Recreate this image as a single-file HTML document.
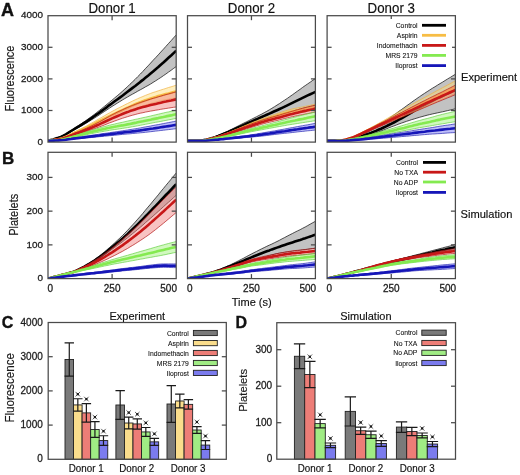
<!DOCTYPE html>
<html><head><meta charset="utf-8"><style>
html,body{margin:0;padding:0;background:#fff;width:520px;height:475px;overflow:hidden;position:relative}
svg{filter:blur(0.3px);}
svg text{font-family:"Liberation Sans", sans-serif}
</style></head><body>
<svg width="520" height="475" viewBox="0 0 520 475" style="position:absolute;left:0;top:0">
<g font-family='"Liberation Sans", sans-serif'>
<text x="1.00" y="15.90" font-size="18" text-anchor="start" font-weight="bold" fill="#111" stroke="#111" stroke-width="0.35" >A</text>
<text x="2.00" y="164.30" font-size="17" text-anchor="start" font-weight="bold" fill="#111" stroke="#111" stroke-width="0.35" >B</text>
<text x="1.80" y="327.50" font-size="16" text-anchor="start" font-weight="bold" fill="#111" stroke="#111" stroke-width="0.35" >C</text>
<text x="235.60" y="328.00" font-size="16" text-anchor="start" font-weight="bold" fill="#111" stroke="#111" stroke-width="0.35" >D</text>
<clipPath id="ca0"><rect x="48.0" y="15.7" width="128.20" height="126.40"/></clipPath>
<g clip-path="url(#ca0)">
<polygon points="48.0,140.8 50.6,140.0 53.1,139.3 55.7,138.5 58.3,137.6 60.8,136.6 63.4,135.4 65.9,133.8 68.5,132.1 71.1,130.4 73.6,128.7 76.2,127.0 78.8,125.3 81.3,123.7 83.9,121.9 86.5,120.1 89.0,118.3 91.6,116.4 94.2,114.5 96.7,112.5 99.3,110.5 101.8,108.5 104.4,106.4 107.0,104.3 109.5,102.2 112.1,100.1 114.7,97.9 117.2,95.8 119.8,93.6 122.4,91.3 124.9,89.0 127.5,86.7 130.0,84.2 132.6,81.8 135.2,79.3 137.7,76.7 140.3,74.1 142.9,71.4 145.4,68.6 148.0,65.9 150.6,63.1 153.1,60.3 155.7,57.6 158.3,54.8 160.8,52.0 163.4,49.2 165.9,46.4 168.5,43.5 171.1,40.7 173.6,37.8 176.2,35.0 176.2,66.6 173.6,68.4 171.1,70.3 168.5,72.1 165.9,74.0 163.4,75.7 160.8,77.5 158.3,79.1 155.7,80.8 153.1,82.4 150.6,84.0 148.0,85.5 145.4,86.9 142.9,88.4 140.3,89.8 137.7,91.2 135.2,92.7 132.6,94.1 130.0,95.5 127.5,97.0 124.9,98.5 122.4,100.0 119.8,101.6 117.2,103.2 114.7,104.8 112.1,106.4 109.5,108.1 107.0,109.8 104.4,111.5 101.8,113.2 99.3,114.9 96.7,116.6 94.2,118.2 91.6,119.8 89.0,121.4 86.5,123.0 83.9,124.5 81.3,126.0 78.8,127.4 76.2,128.8 73.6,130.2 71.1,131.7 68.5,133.2 65.9,134.7 63.4,136.0 60.8,137.1 58.3,138.0 55.7,138.8 53.1,139.5 50.6,140.1 48.0,140.8" fill="#777777" fill-opacity="0.45"/>
<polyline points="48.0,140.8 50.6,140.0 53.1,139.3 55.7,138.5 58.3,137.6 60.8,136.6 63.4,135.4 65.9,133.8 68.5,132.1 71.1,130.4 73.6,128.7 76.2,127.0 78.8,125.3 81.3,123.7 83.9,121.9 86.5,120.1 89.0,118.3 91.6,116.4 94.2,114.5 96.7,112.5 99.3,110.5 101.8,108.5 104.4,106.4 107.0,104.3 109.5,102.2 112.1,100.1 114.7,97.9 117.2,95.8 119.8,93.6 122.4,91.3 124.9,89.0 127.5,86.7 130.0,84.2 132.6,81.8 135.2,79.3 137.7,76.7 140.3,74.1 142.9,71.4 145.4,68.6 148.0,65.9 150.6,63.1 153.1,60.3 155.7,57.6 158.3,54.8 160.8,52.0 163.4,49.2 165.9,46.4 168.5,43.5 171.1,40.7 173.6,37.8 176.2,35.0" fill="none" stroke="#000000" stroke-width="0.75" stroke-opacity="0.9"/>
<polyline points="176.2,66.6 173.6,68.4 171.1,70.3 168.5,72.1 165.9,74.0 163.4,75.7 160.8,77.5 158.3,79.1 155.7,80.8 153.1,82.4 150.6,84.0 148.0,85.5 145.4,86.9 142.9,88.4 140.3,89.8 137.7,91.2 135.2,92.7 132.6,94.1 130.0,95.5 127.5,97.0 124.9,98.5 122.4,100.0 119.8,101.6 117.2,103.2 114.7,104.8 112.1,106.4 109.5,108.1 107.0,109.8 104.4,111.5 101.8,113.2 99.3,114.9 96.7,116.6 94.2,118.2 91.6,119.8 89.0,121.4 86.5,123.0 83.9,124.5 81.3,126.0 78.8,127.4 76.2,128.8 73.6,130.2 71.1,131.7 68.5,133.2 65.9,134.7 63.4,136.0 60.8,137.1 58.3,138.0 55.7,138.8 53.1,139.5 50.6,140.1 48.0,140.8" fill="none" stroke="#000000" stroke-width="0.75" stroke-opacity="0.9"/>
<polyline points="48.0,140.8 50.6,140.1 53.1,139.4 55.7,138.6 58.3,137.8 60.8,136.9 63.4,135.7 65.9,134.3 68.5,132.7 71.1,131.0 73.6,129.5 76.2,127.9 78.8,126.4 81.3,124.8 83.9,123.2 86.5,121.6 89.0,119.9 91.6,118.1 94.2,116.3 96.7,114.5 99.3,112.7 101.8,110.9 104.4,109.0 107.0,107.1 109.5,105.1 112.1,103.2 114.7,101.3 117.2,99.5 119.8,97.6 122.4,95.7 124.9,93.8 127.5,91.8 130.0,89.9 132.6,87.9 135.2,86.0 137.7,84.0 140.3,81.9 142.9,79.9 145.4,77.8 148.0,75.7 150.6,73.5 153.1,71.4 155.7,69.2 158.3,67.0 160.8,64.7 163.4,62.5 165.9,60.2 168.5,57.8 171.1,55.5 173.6,53.1 176.2,50.8" fill="none" stroke="#000000" stroke-width="2.6" stroke-linejoin="round"/>
<polygon points="48.0,140.8 50.6,140.4 53.1,139.9 55.7,139.5 58.3,138.9 60.8,138.3 63.4,137.4 65.9,136.3 68.5,135.0 71.1,133.6 73.6,132.3 76.2,131.1 78.8,129.8 81.3,128.6 83.9,127.3 86.5,126.0 89.0,124.6 91.6,123.1 94.2,121.7 96.7,120.2 99.3,118.7 101.8,117.3 104.4,115.8 107.0,114.3 109.5,112.9 112.1,111.4 114.7,110.1 117.2,108.7 119.8,107.4 122.4,106.1 124.9,104.8 127.5,103.5 130.0,102.3 132.6,101.0 135.2,99.8 137.7,98.7 140.3,97.5 142.9,96.5 145.4,95.4 148.0,94.4 150.6,93.4 153.1,92.5 155.7,91.7 158.3,90.8 160.8,90.0 163.4,89.2 165.9,88.4 168.5,87.5 171.1,86.8 173.6,86.0 176.2,85.2 176.2,97.8 173.6,98.3 171.1,98.7 168.5,99.2 165.9,99.7 163.4,100.2 160.8,100.8 158.3,101.4 155.7,102.1 153.1,102.8 150.6,103.5 148.0,104.3 145.4,105.1 142.9,106.0 140.3,106.9 137.7,107.8 135.2,108.8 132.6,109.8 130.0,110.9 127.5,112.0 124.9,113.0 122.4,114.1 119.8,115.2 117.2,116.2 114.7,117.3 112.1,118.4 109.5,119.5 107.0,120.5 104.4,121.6 101.8,122.7 99.3,123.8 96.7,124.9 94.2,125.9 91.6,127.0 89.0,128.1 86.5,129.1 83.9,130.2 81.3,131.2 78.8,132.2 76.2,133.2 73.6,134.2 71.1,135.2 68.5,136.3 65.9,137.4 63.4,138.3 60.8,138.9 58.3,139.4 55.7,139.8 53.1,140.2 50.6,140.5 48.0,140.8" fill="#ffdc70" fill-opacity="0.45"/>
<polyline points="48.0,140.8 50.6,140.4 53.1,139.9 55.7,139.5 58.3,138.9 60.8,138.3 63.4,137.4 65.9,136.3 68.5,135.0 71.1,133.6 73.6,132.3 76.2,131.1 78.8,129.8 81.3,128.6 83.9,127.3 86.5,126.0 89.0,124.6 91.6,123.1 94.2,121.7 96.7,120.2 99.3,118.7 101.8,117.3 104.4,115.8 107.0,114.3 109.5,112.9 112.1,111.4 114.7,110.1 117.2,108.7 119.8,107.4 122.4,106.1 124.9,104.8 127.5,103.5 130.0,102.3 132.6,101.0 135.2,99.8 137.7,98.7 140.3,97.5 142.9,96.5 145.4,95.4 148.0,94.4 150.6,93.4 153.1,92.5 155.7,91.7 158.3,90.8 160.8,90.0 163.4,89.2 165.9,88.4 168.5,87.5 171.1,86.8 173.6,86.0 176.2,85.2" fill="none" stroke="#f0b040" stroke-width="0.75" stroke-opacity="0.9"/>
<polyline points="176.2,97.8 173.6,98.3 171.1,98.7 168.5,99.2 165.9,99.7 163.4,100.2 160.8,100.8 158.3,101.4 155.7,102.1 153.1,102.8 150.6,103.5 148.0,104.3 145.4,105.1 142.9,106.0 140.3,106.9 137.7,107.8 135.2,108.8 132.6,109.8 130.0,110.9 127.5,112.0 124.9,113.0 122.4,114.1 119.8,115.2 117.2,116.2 114.7,117.3 112.1,118.4 109.5,119.5 107.0,120.5 104.4,121.6 101.8,122.7 99.3,123.8 96.7,124.9 94.2,125.9 91.6,127.0 89.0,128.1 86.5,129.1 83.9,130.2 81.3,131.2 78.8,132.2 76.2,133.2 73.6,134.2 71.1,135.2 68.5,136.3 65.9,137.4 63.4,138.3 60.8,138.9 58.3,139.4 55.7,139.8 53.1,140.2 50.6,140.5 48.0,140.8" fill="none" stroke="#f0b040" stroke-width="0.75" stroke-opacity="0.9"/>
<polyline points="48.0,140.8 50.6,140.4 53.1,140.0 55.7,139.6 58.3,139.2 60.8,138.6 63.4,137.8 65.9,136.8 68.5,135.6 71.1,134.4 73.6,133.3 76.2,132.1 78.8,131.0 81.3,129.9 83.9,128.7 86.5,127.6 89.0,126.3 91.6,125.1 94.2,123.8 96.7,122.5 99.3,121.2 101.8,120.0 104.4,118.7 107.0,117.4 109.5,116.2 112.1,114.9 114.7,113.7 117.2,112.5 119.8,111.3 122.4,110.1 124.9,108.9 127.5,107.7 130.0,106.6 132.6,105.4 135.2,104.3 137.7,103.2 140.3,102.2 142.9,101.2 145.4,100.3 148.0,99.4 150.6,98.5 153.1,97.7 155.7,96.9 158.3,96.1 160.8,95.4 163.4,94.7 165.9,94.0 168.5,93.4 171.1,92.7 173.6,92.1 176.2,91.5" fill="none" stroke="#f7bd45" stroke-width="2.6" stroke-linejoin="round"/>
<polygon points="48.0,140.8 50.6,140.4 53.1,140.0 55.7,139.6 58.3,139.2 60.8,138.6 63.4,137.9 65.9,136.9 68.5,135.8 71.1,134.7 73.6,133.6 76.2,132.5 78.8,131.5 81.3,130.4 83.9,129.3 86.5,128.2 89.0,127.0 91.6,125.8 94.2,124.5 96.7,123.2 99.3,121.9 101.8,120.5 104.4,119.1 107.0,117.6 109.5,116.2 112.1,114.8 114.7,113.5 117.2,112.2 119.8,111.0 122.4,109.8 124.9,108.6 127.5,107.5 130.0,106.4 132.6,105.4 135.2,104.4 137.7,103.4 140.3,102.5 142.9,101.6 145.4,100.8 148.0,99.9 150.6,99.1 153.1,98.3 155.7,97.6 158.3,96.8 160.8,96.1 163.4,95.3 165.9,94.6 168.5,93.9 171.1,93.2 173.6,92.5 176.2,91.8 176.2,107.0 173.6,107.3 171.1,107.7 168.5,108.1 165.9,108.5 163.4,108.9 160.8,109.3 158.3,109.8 155.7,110.2 153.1,110.7 150.6,111.1 148.0,111.6 145.4,112.1 142.9,112.7 140.3,113.2 137.7,113.8 135.2,114.5 132.6,115.2 130.0,115.9 127.5,116.7 124.9,117.5 122.4,118.3 119.8,119.2 117.2,120.1 114.7,121.0 112.1,122.0 109.5,122.9 107.0,123.9 104.4,125.0 101.8,126.0 99.3,126.9 96.7,127.9 94.2,128.8 91.6,129.6 89.0,130.5 86.5,131.4 83.9,132.2 81.3,133.0 78.8,133.9 76.2,134.7 73.6,135.5 71.1,136.3 68.5,137.2 65.9,138.0 63.4,138.7 60.8,139.3 58.3,139.7 55.7,140.0 53.1,140.3 50.6,140.5 48.0,140.8" fill="#f07a78" fill-opacity="0.45"/>
<polyline points="48.0,140.8 50.6,140.4 53.1,140.0 55.7,139.6 58.3,139.2 60.8,138.6 63.4,137.9 65.9,136.9 68.5,135.8 71.1,134.7 73.6,133.6 76.2,132.5 78.8,131.5 81.3,130.4 83.9,129.3 86.5,128.2 89.0,127.0 91.6,125.8 94.2,124.5 96.7,123.2 99.3,121.9 101.8,120.5 104.4,119.1 107.0,117.6 109.5,116.2 112.1,114.8 114.7,113.5 117.2,112.2 119.8,111.0 122.4,109.8 124.9,108.6 127.5,107.5 130.0,106.4 132.6,105.4 135.2,104.4 137.7,103.4 140.3,102.5 142.9,101.6 145.4,100.8 148.0,99.9 150.6,99.1 153.1,98.3 155.7,97.6 158.3,96.8 160.8,96.1 163.4,95.3 165.9,94.6 168.5,93.9 171.1,93.2 173.6,92.5 176.2,91.8" fill="none" stroke="#b01010" stroke-width="0.75" stroke-opacity="0.9"/>
<polyline points="176.2,107.0 173.6,107.3 171.1,107.7 168.5,108.1 165.9,108.5 163.4,108.9 160.8,109.3 158.3,109.8 155.7,110.2 153.1,110.7 150.6,111.1 148.0,111.6 145.4,112.1 142.9,112.7 140.3,113.2 137.7,113.8 135.2,114.5 132.6,115.2 130.0,115.9 127.5,116.7 124.9,117.5 122.4,118.3 119.8,119.2 117.2,120.1 114.7,121.0 112.1,122.0 109.5,122.9 107.0,123.9 104.4,125.0 101.8,126.0 99.3,126.9 96.7,127.9 94.2,128.8 91.6,129.6 89.0,130.5 86.5,131.4 83.9,132.2 81.3,133.0 78.8,133.9 76.2,134.7 73.6,135.5 71.1,136.3 68.5,137.2 65.9,138.0 63.4,138.7 60.8,139.3 58.3,139.7 55.7,140.0 53.1,140.3 50.6,140.5 48.0,140.8" fill="none" stroke="#b01010" stroke-width="0.75" stroke-opacity="0.9"/>
<polyline points="48.0,140.8 50.6,140.5 53.1,140.2 55.7,139.8 58.3,139.4 60.8,138.9 63.4,138.3 65.9,137.4 68.5,136.5 71.1,135.5 73.6,134.5 76.2,133.6 78.8,132.7 81.3,131.7 83.9,130.8 86.5,129.8 89.0,128.8 91.6,127.7 94.2,126.6 96.7,125.5 99.3,124.4 101.8,123.2 104.4,122.0 107.0,120.8 109.5,119.6 112.1,118.4 114.7,117.3 117.2,116.2 119.8,115.1 122.4,114.0 124.9,113.0 127.5,112.1 130.0,111.1 132.6,110.3 135.2,109.4 137.7,108.6 140.3,107.8 142.9,107.1 145.4,106.4 148.0,105.8 150.6,105.1 153.1,104.5 155.7,103.9 158.3,103.3 160.8,102.7 163.4,102.1 165.9,101.6 168.5,101.0 171.1,100.5 173.6,99.9 176.2,99.4" fill="none" stroke="#c81818" stroke-width="2.6" stroke-linejoin="round"/>
<polygon points="48.0,140.8 50.6,140.6 53.1,140.3 55.7,140.1 58.3,139.8 60.8,139.4 63.4,138.9 65.9,138.3 68.5,137.5 71.1,136.7 73.6,135.9 76.2,135.2 78.8,134.3 81.3,133.5 83.9,132.6 86.5,131.8 89.0,131.0 91.6,130.3 94.2,129.5 96.7,128.8 99.3,128.0 101.8,127.3 104.4,126.6 107.0,125.9 109.5,125.2 112.1,124.6 114.7,124.0 117.2,123.4 119.8,122.8 122.4,122.3 124.9,121.7 127.5,121.1 130.0,120.6 132.6,120.0 135.2,119.4 137.7,118.9 140.3,118.3 142.9,117.7 145.4,117.2 148.0,116.6 150.6,116.0 153.1,115.4 155.7,114.8 158.3,114.2 160.8,113.6 163.4,113.0 165.9,112.4 168.5,111.9 171.1,111.3 173.6,110.8 176.2,110.2 176.2,118.4 173.6,118.9 171.1,119.4 168.5,119.9 165.9,120.4 163.4,120.9 160.8,121.4 158.3,121.9 155.7,122.3 153.1,122.8 150.6,123.3 148.0,123.8 145.4,124.3 142.9,124.8 140.3,125.3 137.7,125.8 135.2,126.3 132.6,126.7 130.0,127.2 127.5,127.6 124.9,128.0 122.4,128.4 119.8,128.8 117.2,129.2 114.7,129.5 112.1,129.9 109.5,130.3 107.0,130.8 104.4,131.2 101.8,131.7 99.3,132.1 96.7,132.6 94.2,133.1 91.6,133.6 89.0,134.1 86.5,134.7 83.9,135.2 81.3,135.8 78.8,136.4 76.2,137.0 73.6,137.5 71.1,138.1 68.5,138.7 65.9,139.2 63.4,139.7 60.8,140.0 58.3,140.3 55.7,140.4 53.1,140.6 50.6,140.7 48.0,140.8" fill="#98f070" fill-opacity="0.45"/>
<polyline points="48.0,140.8 50.6,140.6 53.1,140.3 55.7,140.1 58.3,139.8 60.8,139.4 63.4,138.9 65.9,138.3 68.5,137.5 71.1,136.7 73.6,135.9 76.2,135.2 78.8,134.3 81.3,133.5 83.9,132.6 86.5,131.8 89.0,131.0 91.6,130.3 94.2,129.5 96.7,128.8 99.3,128.0 101.8,127.3 104.4,126.6 107.0,125.9 109.5,125.2 112.1,124.6 114.7,124.0 117.2,123.4 119.8,122.8 122.4,122.3 124.9,121.7 127.5,121.1 130.0,120.6 132.6,120.0 135.2,119.4 137.7,118.9 140.3,118.3 142.9,117.7 145.4,117.2 148.0,116.6 150.6,116.0 153.1,115.4 155.7,114.8 158.3,114.2 160.8,113.6 163.4,113.0 165.9,112.4 168.5,111.9 171.1,111.3 173.6,110.8 176.2,110.2" fill="none" stroke="#60d040" stroke-width="0.75" stroke-opacity="0.9"/>
<polyline points="176.2,118.4 173.6,118.9 171.1,119.4 168.5,119.9 165.9,120.4 163.4,120.9 160.8,121.4 158.3,121.9 155.7,122.3 153.1,122.8 150.6,123.3 148.0,123.8 145.4,124.3 142.9,124.8 140.3,125.3 137.7,125.8 135.2,126.3 132.6,126.7 130.0,127.2 127.5,127.6 124.9,128.0 122.4,128.4 119.8,128.8 117.2,129.2 114.7,129.5 112.1,129.9 109.5,130.3 107.0,130.8 104.4,131.2 101.8,131.7 99.3,132.1 96.7,132.6 94.2,133.1 91.6,133.6 89.0,134.1 86.5,134.7 83.9,135.2 81.3,135.8 78.8,136.4 76.2,137.0 73.6,137.5 71.1,138.1 68.5,138.7 65.9,139.2 63.4,139.7 60.8,140.0 58.3,140.3 55.7,140.4 53.1,140.6 50.6,140.7 48.0,140.8" fill="none" stroke="#60d040" stroke-width="0.75" stroke-opacity="0.9"/>
<polyline points="48.0,140.8 50.6,140.6 53.1,140.4 55.7,140.2 58.3,140.0 60.8,139.7 63.4,139.3 65.9,138.7 68.5,138.1 71.1,137.4 73.6,136.7 76.2,136.1 78.8,135.4 81.3,134.6 83.9,133.9 86.5,133.3 89.0,132.6 91.6,132.0 94.2,131.3 96.7,130.7 99.3,130.1 101.8,129.5 104.4,128.9 107.0,128.3 109.5,127.8 112.1,127.2 114.7,126.7 117.2,126.3 119.8,125.8 122.4,125.4 124.9,124.9 127.5,124.4 130.0,123.9 132.6,123.4 135.2,122.9 137.7,122.3 140.3,121.8 142.9,121.3 145.4,120.7 148.0,120.2 150.6,119.7 153.1,119.1 155.7,118.6 158.3,118.1 160.8,117.5 163.4,117.0 165.9,116.4 168.5,115.9 171.1,115.4 173.6,114.8 176.2,114.3" fill="none" stroke="#84ea50" stroke-width="2.6" stroke-linejoin="round"/>
<polygon points="48.0,140.8 50.6,140.7 53.1,140.5 55.7,140.4 58.3,140.2 60.8,140.0 63.4,139.7 65.9,139.3 68.5,138.8 71.1,138.4 73.6,138.0 76.2,137.6 78.8,137.2 81.3,136.9 83.9,136.5 86.5,136.1 89.0,135.7 91.6,135.3 94.2,135.0 96.7,134.6 99.3,134.2 101.8,133.8 104.4,133.4 107.0,133.1 109.5,132.7 112.1,132.3 114.7,131.9 117.2,131.6 119.8,131.2 122.4,130.8 124.9,130.4 127.5,130.0 130.0,129.6 132.6,129.2 135.2,128.8 137.7,128.4 140.3,127.9 142.9,127.4 145.4,126.9 148.0,126.5 150.6,126.0 153.1,125.5 155.7,125.0 158.3,124.6 160.8,124.1 163.4,123.6 165.9,123.1 168.5,122.6 171.1,122.1 173.6,121.6 176.2,121.1 176.2,128.7 173.6,129.0 171.1,129.3 168.5,129.6 165.9,129.9 163.4,130.2 160.8,130.5 158.3,130.8 155.7,131.1 153.1,131.4 150.6,131.7 148.0,132.0 145.4,132.3 142.9,132.6 140.3,132.8 137.7,133.1 135.2,133.3 132.6,133.5 130.0,133.8 127.5,134.0 124.9,134.2 122.4,134.4 119.8,134.7 117.2,135.0 114.7,135.2 112.1,135.5 109.5,135.7 107.0,136.0 104.4,136.2 101.8,136.5 99.3,136.7 96.7,137.0 94.2,137.2 91.6,137.5 89.0,137.7 86.5,138.0 83.9,138.2 81.3,138.5 78.8,138.8 76.2,139.0 73.6,139.3 71.1,139.5 68.5,139.8 65.9,140.1 63.4,140.3 60.8,140.5 58.3,140.6 55.7,140.6 53.1,140.7 50.6,140.8 48.0,140.8" fill="#7070f0" fill-opacity="0.45"/>
<polyline points="48.0,140.8 50.6,140.7 53.1,140.5 55.7,140.4 58.3,140.2 60.8,140.0 63.4,139.7 65.9,139.3 68.5,138.8 71.1,138.4 73.6,138.0 76.2,137.6 78.8,137.2 81.3,136.9 83.9,136.5 86.5,136.1 89.0,135.7 91.6,135.3 94.2,135.0 96.7,134.6 99.3,134.2 101.8,133.8 104.4,133.4 107.0,133.1 109.5,132.7 112.1,132.3 114.7,131.9 117.2,131.6 119.8,131.2 122.4,130.8 124.9,130.4 127.5,130.0 130.0,129.6 132.6,129.2 135.2,128.8 137.7,128.4 140.3,127.9 142.9,127.4 145.4,126.9 148.0,126.5 150.6,126.0 153.1,125.5 155.7,125.0 158.3,124.6 160.8,124.1 163.4,123.6 165.9,123.1 168.5,122.6 171.1,122.1 173.6,121.6 176.2,121.1" fill="none" stroke="#2020b0" stroke-width="0.75" stroke-opacity="0.9"/>
<polyline points="176.2,128.7 173.6,129.0 171.1,129.3 168.5,129.6 165.9,129.9 163.4,130.2 160.8,130.5 158.3,130.8 155.7,131.1 153.1,131.4 150.6,131.7 148.0,132.0 145.4,132.3 142.9,132.6 140.3,132.8 137.7,133.1 135.2,133.3 132.6,133.5 130.0,133.8 127.5,134.0 124.9,134.2 122.4,134.4 119.8,134.7 117.2,135.0 114.7,135.2 112.1,135.5 109.5,135.7 107.0,136.0 104.4,136.2 101.8,136.5 99.3,136.7 96.7,137.0 94.2,137.2 91.6,137.5 89.0,137.7 86.5,138.0 83.9,138.2 81.3,138.5 78.8,138.8 76.2,139.0 73.6,139.3 71.1,139.5 68.5,139.8 65.9,140.1 63.4,140.3 60.8,140.5 58.3,140.6 55.7,140.6 53.1,140.7 50.6,140.8 48.0,140.8" fill="none" stroke="#2020b0" stroke-width="0.75" stroke-opacity="0.9"/>
<polyline points="48.0,140.8 50.6,140.7 53.1,140.6 55.7,140.5 58.3,140.4 60.8,140.2 63.4,140.0 65.9,139.7 68.5,139.3 71.1,139.0 73.6,138.6 76.2,138.3 78.8,138.0 81.3,137.7 83.9,137.4 86.5,137.0 89.0,136.7 91.6,136.4 94.2,136.1 96.7,135.8 99.3,135.5 101.8,135.1 104.4,134.8 107.0,134.5 109.5,134.2 112.1,133.9 114.7,133.6 117.2,133.3 119.8,132.9 122.4,132.6 124.9,132.3 127.5,132.0 130.0,131.7 132.6,131.4 135.2,131.1 137.7,130.7 140.3,130.4 142.9,130.0 145.4,129.6 148.0,129.2 150.6,128.8 153.1,128.5 155.7,128.1 158.3,127.7 160.8,127.3 163.4,126.9 165.9,126.5 168.5,126.1 171.1,125.7 173.6,125.3 176.2,124.9" fill="none" stroke="#1616b8" stroke-width="2.6" stroke-linejoin="round"/>
</g>
<clipPath id="cb0"><rect x="48.0" y="152.3" width="128.20" height="126.30"/></clipPath>
<g clip-path="url(#cb0)">
<polygon points="48.0,278.6 50.6,277.9 53.1,277.3 55.7,276.6 58.3,275.9 60.8,275.2 63.4,274.5 65.9,273.8 68.5,273.1 71.1,272.3 73.6,271.3 76.2,270.3 78.8,269.1 81.3,267.7 83.9,266.3 86.5,264.8 89.0,263.2 91.6,261.5 94.2,259.8 96.7,257.9 99.3,256.0 101.8,254.0 104.4,251.9 107.0,249.7 109.5,247.5 112.1,245.2 114.7,242.9 117.2,240.5 119.8,238.1 122.4,235.6 124.9,233.1 127.5,230.4 130.0,227.7 132.6,224.9 135.2,222.1 137.7,219.2 140.3,216.3 142.9,213.3 145.4,210.2 148.0,207.1 150.6,204.1 153.1,201.0 155.7,197.9 158.3,194.8 160.8,191.6 163.4,188.5 165.9,185.4 168.5,182.3 171.1,179.2 173.6,176.1 176.2,173.0 176.2,195.3 173.6,197.6 171.1,199.9 168.5,202.2 165.9,204.5 163.4,206.8 160.8,209.1 158.3,211.4 155.7,213.7 153.1,216.0 150.6,218.2 148.0,220.5 145.4,222.7 142.9,225.0 140.3,227.2 137.7,229.4 135.2,231.5 132.6,233.6 130.0,235.7 127.5,237.8 124.9,239.8 122.4,241.8 119.8,243.7 117.2,245.5 114.7,247.4 112.1,249.3 109.5,251.2 107.0,253.1 104.4,255.1 101.8,257.0 99.3,258.7 96.7,260.3 94.2,261.9 91.6,263.4 89.0,264.8 86.5,266.1 83.9,267.4 81.3,268.7 78.8,270.0 76.2,271.1 73.6,272.0 71.1,272.8 68.5,273.4 65.9,274.0 63.4,274.6 60.8,275.2 58.3,275.9 55.7,276.6 53.1,277.2 50.6,277.9 48.0,278.6" fill="#777777" fill-opacity="0.45"/>
<polyline points="48.0,278.6 50.6,277.9 53.1,277.3 55.7,276.6 58.3,275.9 60.8,275.2 63.4,274.5 65.9,273.8 68.5,273.1 71.1,272.3 73.6,271.3 76.2,270.3 78.8,269.1 81.3,267.7 83.9,266.3 86.5,264.8 89.0,263.2 91.6,261.5 94.2,259.8 96.7,257.9 99.3,256.0 101.8,254.0 104.4,251.9 107.0,249.7 109.5,247.5 112.1,245.2 114.7,242.9 117.2,240.5 119.8,238.1 122.4,235.6 124.9,233.1 127.5,230.4 130.0,227.7 132.6,224.9 135.2,222.1 137.7,219.2 140.3,216.3 142.9,213.3 145.4,210.2 148.0,207.1 150.6,204.1 153.1,201.0 155.7,197.9 158.3,194.8 160.8,191.6 163.4,188.5 165.9,185.4 168.5,182.3 171.1,179.2 173.6,176.1 176.2,173.0" fill="none" stroke="#000000" stroke-width="0.75" stroke-opacity="0.9"/>
<polyline points="176.2,195.3 173.6,197.6 171.1,199.9 168.5,202.2 165.9,204.5 163.4,206.8 160.8,209.1 158.3,211.4 155.7,213.7 153.1,216.0 150.6,218.2 148.0,220.5 145.4,222.7 142.9,225.0 140.3,227.2 137.7,229.4 135.2,231.5 132.6,233.6 130.0,235.7 127.5,237.8 124.9,239.8 122.4,241.8 119.8,243.7 117.2,245.5 114.7,247.4 112.1,249.3 109.5,251.2 107.0,253.1 104.4,255.1 101.8,257.0 99.3,258.7 96.7,260.3 94.2,261.9 91.6,263.4 89.0,264.8 86.5,266.1 83.9,267.4 81.3,268.7 78.8,270.0 76.2,271.1 73.6,272.0 71.1,272.8 68.5,273.4 65.9,274.0 63.4,274.6 60.8,275.2 58.3,275.9 55.7,276.6 53.1,277.2 50.6,277.9 48.0,278.6" fill="none" stroke="#000000" stroke-width="0.75" stroke-opacity="0.9"/>
<polyline points="48.0,278.6 50.6,277.9 53.1,277.3 55.7,276.6 58.3,275.9 60.8,275.2 63.4,274.6 65.9,273.9 68.5,273.3 71.1,272.5 73.6,271.7 76.2,270.7 78.8,269.5 81.3,268.2 83.9,266.9 86.5,265.4 89.0,264.0 91.6,262.4 94.2,260.8 96.7,259.1 99.3,257.4 101.8,255.5 104.4,253.5 107.0,251.4 109.5,249.3 112.1,247.2 114.7,245.1 117.2,243.0 119.8,240.9 122.4,238.7 124.9,236.4 127.5,234.1 130.0,231.7 132.6,229.3 135.2,226.8 137.7,224.3 140.3,221.7 142.9,219.1 145.4,216.5 148.0,213.8 150.6,211.1 153.1,208.5 155.7,205.8 158.3,203.1 160.8,200.4 163.4,197.6 165.9,194.9 168.5,192.3 171.1,189.6 173.6,186.9 176.2,184.2" fill="none" stroke="#000000" stroke-width="2.6" stroke-linejoin="round"/>
<polygon points="48.0,278.6 50.6,277.9 53.1,277.3 55.7,276.6 58.3,275.9 60.8,275.2 63.4,274.5 65.9,273.9 68.5,273.2 71.1,272.4 73.6,271.5 76.2,270.5 78.8,269.3 81.3,267.9 83.9,266.5 86.5,265.1 89.0,263.7 91.6,262.2 94.2,260.6 96.7,259.0 99.3,257.4 101.8,255.6 104.4,253.8 107.0,251.9 109.5,249.9 112.1,247.9 114.7,245.9 117.2,243.7 119.8,241.6 122.4,239.4 124.9,237.1 127.5,234.8 130.0,232.5 132.6,230.1 135.2,227.7 137.7,225.3 140.3,222.8 142.9,220.3 145.4,217.7 148.0,215.1 150.6,212.5 153.1,209.9 155.7,207.4 158.3,204.8 160.8,202.2 163.4,199.7 165.9,197.1 168.5,194.5 171.1,192.0 173.6,189.4 176.2,186.9 176.2,212.5 173.6,214.7 171.1,216.8 168.5,219.0 165.9,221.2 163.4,223.3 160.8,225.4 158.3,227.4 155.7,229.5 153.1,231.5 150.6,233.4 148.0,235.3 145.4,237.1 142.9,238.8 140.3,240.5 137.7,242.2 135.2,243.8 132.6,245.4 130.0,246.9 127.5,248.5 124.9,249.9 122.4,251.4 119.8,252.7 117.2,254.1 114.7,255.4 112.1,256.7 109.5,257.9 107.0,259.2 104.4,260.4 101.8,261.6 99.3,262.7 96.7,263.8 94.2,264.9 91.6,265.9 89.0,266.9 86.5,267.8 83.9,268.7 81.3,269.7 78.8,270.6 76.2,271.4 73.6,272.2 71.1,272.9 68.5,273.5 65.9,274.0 63.4,274.6 60.8,275.2 58.3,275.9 55.7,276.6 53.1,277.2 50.6,277.9 48.0,278.6" fill="#f07a78" fill-opacity="0.45"/>
<polyline points="48.0,278.6 50.6,277.9 53.1,277.3 55.7,276.6 58.3,275.9 60.8,275.2 63.4,274.5 65.9,273.9 68.5,273.2 71.1,272.4 73.6,271.5 76.2,270.5 78.8,269.3 81.3,267.9 83.9,266.5 86.5,265.1 89.0,263.7 91.6,262.2 94.2,260.6 96.7,259.0 99.3,257.4 101.8,255.6 104.4,253.8 107.0,251.9 109.5,249.9 112.1,247.9 114.7,245.9 117.2,243.7 119.8,241.6 122.4,239.4 124.9,237.1 127.5,234.8 130.0,232.5 132.6,230.1 135.2,227.7 137.7,225.3 140.3,222.8 142.9,220.3 145.4,217.7 148.0,215.1 150.6,212.5 153.1,209.9 155.7,207.4 158.3,204.8 160.8,202.2 163.4,199.7 165.9,197.1 168.5,194.5 171.1,192.0 173.6,189.4 176.2,186.9" fill="none" stroke="#b01010" stroke-width="0.75" stroke-opacity="0.9"/>
<polyline points="176.2,212.5 173.6,214.7 171.1,216.8 168.5,219.0 165.9,221.2 163.4,223.3 160.8,225.4 158.3,227.4 155.7,229.5 153.1,231.5 150.6,233.4 148.0,235.3 145.4,237.1 142.9,238.8 140.3,240.5 137.7,242.2 135.2,243.8 132.6,245.4 130.0,246.9 127.5,248.5 124.9,249.9 122.4,251.4 119.8,252.7 117.2,254.1 114.7,255.4 112.1,256.7 109.5,257.9 107.0,259.2 104.4,260.4 101.8,261.6 99.3,262.7 96.7,263.8 94.2,264.9 91.6,265.9 89.0,266.9 86.5,267.8 83.9,268.7 81.3,269.7 78.8,270.6 76.2,271.4 73.6,272.2 71.1,272.9 68.5,273.5 65.9,274.0 63.4,274.6 60.8,275.2 58.3,275.9 55.7,276.6 53.1,277.2 50.6,277.9 48.0,278.6" fill="none" stroke="#b01010" stroke-width="0.75" stroke-opacity="0.9"/>
<polyline points="48.0,278.6 50.6,277.9 53.1,277.3 55.7,276.6 58.3,275.9 60.8,275.2 63.4,274.6 65.9,274.0 68.5,273.3 71.1,272.6 73.6,271.9 76.2,270.9 78.8,269.9 81.3,268.8 83.9,267.6 86.5,266.5 89.0,265.3 91.6,264.0 94.2,262.8 96.7,261.4 99.3,260.0 101.8,258.6 104.4,257.1 107.0,255.5 109.5,253.9 112.1,252.3 114.7,250.6 117.2,248.9 119.8,247.1 122.4,245.4 124.9,243.5 127.5,241.6 130.0,239.7 132.6,237.8 135.2,235.8 137.7,233.7 140.3,231.7 142.9,229.5 145.4,227.4 148.0,225.2 150.6,222.9 153.1,220.7 155.7,218.4 158.3,216.1 160.8,213.8 163.4,211.5 165.9,209.1 168.5,206.8 171.1,204.4 173.6,202.0 176.2,199.7" fill="none" stroke="#c81818" stroke-width="2.6" stroke-linejoin="round"/>
<polygon points="48.0,278.6 50.6,277.9 53.1,277.3 55.7,276.6 58.3,275.9 60.8,275.2 63.4,274.5 65.9,273.8 68.5,273.1 71.1,272.4 73.6,271.7 76.2,270.9 78.8,270.2 81.3,269.4 83.9,268.6 86.5,267.8 89.0,267.0 91.6,266.2 94.2,265.4 96.7,264.6 99.3,263.8 101.8,262.9 104.4,262.1 107.0,261.3 109.5,260.5 112.1,259.7 114.7,258.9 117.2,258.2 119.8,257.5 122.4,256.7 124.9,256.0 127.5,255.3 130.0,254.5 132.6,253.8 135.2,253.0 137.7,252.3 140.3,251.5 142.9,250.8 145.4,250.1 148.0,249.3 150.6,248.6 153.1,247.8 155.7,247.1 158.3,246.3 160.8,245.6 163.4,244.9 165.9,244.2 168.5,243.5 171.1,242.8 173.6,242.2 176.2,241.5 176.2,252.3 173.6,252.8 171.1,253.4 168.5,253.9 165.9,254.5 163.4,255.0 160.8,255.5 158.3,256.0 155.7,256.4 153.1,256.9 150.6,257.4 148.0,257.8 145.4,258.3 142.9,258.8 140.3,259.2 137.7,259.7 135.2,260.2 132.6,260.7 130.0,261.1 127.5,261.6 124.9,262.1 122.4,262.5 119.8,263.0 117.2,263.5 114.7,263.9 112.1,264.4 109.5,265.0 107.0,265.5 104.4,266.0 101.8,266.6 99.3,267.1 96.7,267.7 94.2,268.2 91.6,268.8 89.0,269.3 86.5,269.8 83.9,270.3 81.3,270.8 78.8,271.3 76.2,271.8 73.6,272.4 71.1,272.9 68.5,273.5 65.9,274.0 63.4,274.6 60.8,275.2 58.3,275.9 55.7,276.5 53.1,277.2 50.6,277.9 48.0,278.6" fill="#98f070" fill-opacity="0.45"/>
<polyline points="48.0,278.6 50.6,277.9 53.1,277.3 55.7,276.6 58.3,275.9 60.8,275.2 63.4,274.5 65.9,273.8 68.5,273.1 71.1,272.4 73.6,271.7 76.2,270.9 78.8,270.2 81.3,269.4 83.9,268.6 86.5,267.8 89.0,267.0 91.6,266.2 94.2,265.4 96.7,264.6 99.3,263.8 101.8,262.9 104.4,262.1 107.0,261.3 109.5,260.5 112.1,259.7 114.7,258.9 117.2,258.2 119.8,257.5 122.4,256.7 124.9,256.0 127.5,255.3 130.0,254.5 132.6,253.8 135.2,253.0 137.7,252.3 140.3,251.5 142.9,250.8 145.4,250.1 148.0,249.3 150.6,248.6 153.1,247.8 155.7,247.1 158.3,246.3 160.8,245.6 163.4,244.9 165.9,244.2 168.5,243.5 171.1,242.8 173.6,242.2 176.2,241.5" fill="none" stroke="#60d040" stroke-width="0.75" stroke-opacity="0.9"/>
<polyline points="176.2,252.3 173.6,252.8 171.1,253.4 168.5,253.9 165.9,254.5 163.4,255.0 160.8,255.5 158.3,256.0 155.7,256.4 153.1,256.9 150.6,257.4 148.0,257.8 145.4,258.3 142.9,258.8 140.3,259.2 137.7,259.7 135.2,260.2 132.6,260.7 130.0,261.1 127.5,261.6 124.9,262.1 122.4,262.5 119.8,263.0 117.2,263.5 114.7,263.9 112.1,264.4 109.5,265.0 107.0,265.5 104.4,266.0 101.8,266.6 99.3,267.1 96.7,267.7 94.2,268.2 91.6,268.8 89.0,269.3 86.5,269.8 83.9,270.3 81.3,270.8 78.8,271.3 76.2,271.8 73.6,272.4 71.1,272.9 68.5,273.5 65.9,274.0 63.4,274.6 60.8,275.2 58.3,275.9 55.7,276.5 53.1,277.2 50.6,277.9 48.0,278.6" fill="none" stroke="#60d040" stroke-width="0.75" stroke-opacity="0.9"/>
<polyline points="48.0,278.6 50.6,277.9 53.1,277.2 55.7,276.6 58.3,275.9 60.8,275.2 63.4,274.6 65.9,273.9 68.5,273.3 71.1,272.7 73.6,272.0 76.2,271.4 78.8,270.7 81.3,270.1 83.9,269.5 86.5,268.8 89.0,268.2 91.6,267.5 94.2,266.8 96.7,266.1 99.3,265.4 101.8,264.8 104.4,264.1 107.0,263.4 109.5,262.7 112.1,262.1 114.7,261.4 117.2,260.8 119.8,260.2 122.4,259.6 124.9,259.0 127.5,258.4 130.0,257.8 132.6,257.2 135.2,256.6 137.7,256.0 140.3,255.4 142.9,254.8 145.4,254.2 148.0,253.6 150.6,253.0 153.1,252.4 155.7,251.8 158.3,251.1 160.8,250.5 163.4,249.9 165.9,249.3 168.5,248.7 171.1,248.1 173.6,247.5 176.2,246.9" fill="none" stroke="#84ea50" stroke-width="2.6" stroke-linejoin="round"/>
<polygon points="48.0,278.6 50.6,278.2 53.1,277.8 55.7,277.4 58.3,277.0 60.8,276.6 63.4,276.2 65.9,275.9 68.5,275.5 71.1,275.2 73.6,274.9 76.2,274.5 78.8,274.2 81.3,273.9 83.9,273.5 86.5,273.2 89.0,272.9 91.6,272.6 94.2,272.3 96.7,272.0 99.3,271.7 101.8,271.4 104.4,271.0 107.0,270.7 109.5,270.3 112.1,270.0 114.7,269.7 117.2,269.3 119.8,269.0 122.4,268.6 124.9,268.3 127.5,268.0 130.0,267.7 132.6,267.4 135.2,267.1 137.7,266.8 140.3,266.5 142.9,266.1 145.4,265.7 148.0,265.4 150.6,265.1 153.1,264.8 155.7,264.5 158.3,264.2 160.8,264.0 163.4,263.9 165.9,263.9 168.5,263.9 171.1,263.9 173.6,263.9 176.2,263.9 176.2,267.6 173.6,267.6 171.1,267.5 168.5,267.4 165.9,267.3 163.4,267.3 160.8,267.4 158.3,267.5 155.7,267.7 153.1,267.9 150.6,268.1 148.0,268.4 145.4,268.6 142.9,268.9 140.3,269.2 137.7,269.5 135.2,269.7 132.6,270.0 130.0,270.2 127.5,270.4 124.9,270.7 122.4,270.9 119.8,271.2 117.2,271.5 114.7,271.7 112.1,272.0 109.5,272.3 107.0,272.6 104.4,272.8 101.8,273.1 99.3,273.4 96.7,273.6 94.2,273.8 91.6,274.1 89.0,274.3 86.5,274.6 83.9,274.8 81.3,275.1 78.8,275.4 76.2,275.6 73.6,275.9 71.1,276.2 68.5,276.4 65.9,276.7 63.4,277.0 60.8,277.3 58.3,277.5 55.7,277.8 53.1,278.1 50.6,278.3 48.0,278.6" fill="#7070f0" fill-opacity="0.45"/>
<polyline points="48.0,278.6 50.6,278.2 53.1,277.8 55.7,277.4 58.3,277.0 60.8,276.6 63.4,276.2 65.9,275.9 68.5,275.5 71.1,275.2 73.6,274.9 76.2,274.5 78.8,274.2 81.3,273.9 83.9,273.5 86.5,273.2 89.0,272.9 91.6,272.6 94.2,272.3 96.7,272.0 99.3,271.7 101.8,271.4 104.4,271.0 107.0,270.7 109.5,270.3 112.1,270.0 114.7,269.7 117.2,269.3 119.8,269.0 122.4,268.6 124.9,268.3 127.5,268.0 130.0,267.7 132.6,267.4 135.2,267.1 137.7,266.8 140.3,266.5 142.9,266.1 145.4,265.7 148.0,265.4 150.6,265.1 153.1,264.8 155.7,264.5 158.3,264.2 160.8,264.0 163.4,263.9 165.9,263.9 168.5,263.9 171.1,263.9 173.6,263.9 176.2,263.9" fill="none" stroke="#2020b0" stroke-width="0.75" stroke-opacity="0.9"/>
<polyline points="176.2,267.6 173.6,267.6 171.1,267.5 168.5,267.4 165.9,267.3 163.4,267.3 160.8,267.4 158.3,267.5 155.7,267.7 153.1,267.9 150.6,268.1 148.0,268.4 145.4,268.6 142.9,268.9 140.3,269.2 137.7,269.5 135.2,269.7 132.6,270.0 130.0,270.2 127.5,270.4 124.9,270.7 122.4,270.9 119.8,271.2 117.2,271.5 114.7,271.7 112.1,272.0 109.5,272.3 107.0,272.6 104.4,272.8 101.8,273.1 99.3,273.4 96.7,273.6 94.2,273.8 91.6,274.1 89.0,274.3 86.5,274.6 83.9,274.8 81.3,275.1 78.8,275.4 76.2,275.6 73.6,275.9 71.1,276.2 68.5,276.4 65.9,276.7 63.4,277.0 60.8,277.3 58.3,277.5 55.7,277.8 53.1,278.1 50.6,278.3 48.0,278.6" fill="none" stroke="#2020b0" stroke-width="0.75" stroke-opacity="0.9"/>
<polyline points="48.0,278.6 50.6,278.3 53.1,277.9 55.7,277.6 58.3,277.2 60.8,276.9 63.4,276.6 65.9,276.3 68.5,276.0 71.1,275.7 73.6,275.4 76.2,275.1 78.8,274.8 81.3,274.5 83.9,274.2 86.5,273.9 89.0,273.6 91.6,273.3 94.2,273.1 96.7,272.8 99.3,272.5 101.8,272.2 104.4,271.9 107.0,271.6 109.5,271.3 112.1,271.0 114.7,270.7 117.2,270.4 119.8,270.1 122.4,269.8 124.9,269.5 127.5,269.2 130.0,268.9 132.6,268.7 135.2,268.4 137.7,268.1 140.3,267.8 142.9,267.5 145.4,267.2 148.0,266.9 150.6,266.6 153.1,266.4 155.7,266.1 158.3,265.9 160.8,265.7 163.4,265.6 165.9,265.6 168.5,265.7 171.1,265.7 173.6,265.7 176.2,265.8" fill="none" stroke="#1616b8" stroke-width="2.6" stroke-linejoin="round"/>
</g>
<line x1="48.00" y1="110.50" x2="52.50" y2="110.50" stroke="#4a4a4a" stroke-width="1.25" />
<line x1="176.20" y1="110.50" x2="171.70" y2="110.50" stroke="#4a4a4a" stroke-width="1.25" />
<line x1="48.00" y1="78.90" x2="52.50" y2="78.90" stroke="#4a4a4a" stroke-width="1.25" />
<line x1="176.20" y1="78.90" x2="171.70" y2="78.90" stroke="#4a4a4a" stroke-width="1.25" />
<line x1="48.00" y1="47.30" x2="52.50" y2="47.30" stroke="#4a4a4a" stroke-width="1.25" />
<line x1="176.20" y1="47.30" x2="171.70" y2="47.30" stroke="#4a4a4a" stroke-width="1.25" />
<line x1="112.10" y1="142.10" x2="112.10" y2="137.60" stroke="#4a4a4a" stroke-width="1.25" />
<line x1="112.10" y1="15.70" x2="112.10" y2="20.20" stroke="#4a4a4a" stroke-width="1.25" />
<rect x="48.00" y="15.70" width="128.20" height="126.40" fill="none" stroke="#4a4a4a" stroke-width="1.25"/>
<line x1="48.00" y1="244.87" x2="52.50" y2="244.87" stroke="#4a4a4a" stroke-width="1.25" />
<line x1="176.20" y1="244.87" x2="171.70" y2="244.87" stroke="#4a4a4a" stroke-width="1.25" />
<line x1="48.00" y1="211.14" x2="52.50" y2="211.14" stroke="#4a4a4a" stroke-width="1.25" />
<line x1="176.20" y1="211.14" x2="171.70" y2="211.14" stroke="#4a4a4a" stroke-width="1.25" />
<line x1="48.00" y1="177.41" x2="52.50" y2="177.41" stroke="#4a4a4a" stroke-width="1.25" />
<line x1="176.20" y1="177.41" x2="171.70" y2="177.41" stroke="#4a4a4a" stroke-width="1.25" />
<line x1="112.10" y1="278.60" x2="112.10" y2="274.10" stroke="#4a4a4a" stroke-width="1.25" />
<line x1="112.10" y1="152.30" x2="112.10" y2="156.80" stroke="#4a4a4a" stroke-width="1.25" />
<rect x="48.00" y="152.30" width="128.20" height="126.30" fill="none" stroke="#4a4a4a" stroke-width="1.25"/>
<text transform="translate(112.10,13.30) scale(1.0,1.05)" font-size="13.3" text-anchor="middle" font-weight="normal" fill="#101010" stroke="#101010" stroke-width="0.15" >Donor 1</text>
<text transform="translate(50.20,291.80) scale(1.0,1.04)" font-size="10.0" text-anchor="middle" font-weight="normal" fill="#1c1c1c" stroke="#1c1c1c" stroke-width="0.28" >0</text>
<text transform="translate(112.10,291.80) scale(1.0,1.04)" font-size="10.0" text-anchor="middle" font-weight="normal" fill="#1c1c1c" stroke="#1c1c1c" stroke-width="0.28" >250</text>
<text transform="translate(168.60,291.80) scale(1.0,1.04)" font-size="10.0" text-anchor="middle" font-weight="normal" fill="#1c1c1c" stroke="#1c1c1c" stroke-width="0.28" >500</text>
<clipPath id="ca1"><rect x="187.5" y="15.7" width="127.90" height="126.40"/></clipPath>
<g clip-path="url(#ca1)">
<polygon points="187.5,140.8 190.1,140.8 192.6,140.7 195.2,140.7 197.7,140.6 200.3,140.5 202.8,140.2 205.4,139.7 208.0,138.9 210.5,138.0 213.1,137.2 215.6,136.3 218.2,135.3 220.8,134.3 223.3,133.1 225.9,132.0 228.4,130.8 231.0,129.6 233.5,128.3 236.1,127.0 238.7,125.7 241.2,124.4 243.8,123.1 246.3,121.9 248.9,120.6 251.4,119.3 254.0,118.0 256.6,116.7 259.1,115.4 261.7,114.1 264.2,112.7 266.8,111.3 269.4,109.8 271.9,108.3 274.5,106.7 277.0,105.1 279.6,103.5 282.1,101.8 284.7,100.1 287.3,98.4 289.8,96.6 292.4,94.8 294.9,93.0 297.5,91.1 300.1,89.3 302.6,87.4 305.2,85.6 307.7,83.9 310.3,82.1 312.8,80.3 315.4,78.6 315.4,105.1 312.8,105.8 310.3,106.4 307.7,107.0 305.2,107.6 302.6,108.3 300.1,109.0 297.5,109.7 294.9,110.4 292.4,111.1 289.8,111.8 287.3,112.5 284.7,113.1 282.1,113.8 279.6,114.5 277.0,115.2 274.5,116.0 271.9,116.7 269.4,117.4 266.8,118.2 264.2,119.0 261.7,119.9 259.1,120.9 256.6,121.8 254.0,122.8 251.4,123.8 248.9,124.8 246.3,125.8 243.8,126.8 241.2,127.8 238.7,128.8 236.1,129.8 233.5,130.9 231.0,131.9 228.4,132.9 225.9,133.9 223.3,134.8 220.8,135.7 218.2,136.6 215.6,137.4 213.1,138.2 210.5,138.9 208.0,139.6 205.4,140.2 202.8,140.7 200.3,140.8 197.7,140.8 195.2,140.8 192.6,140.8 190.1,140.8 187.5,140.8" fill="#777777" fill-opacity="0.45"/>
<polyline points="187.5,140.8 190.1,140.8 192.6,140.7 195.2,140.7 197.7,140.6 200.3,140.5 202.8,140.2 205.4,139.7 208.0,138.9 210.5,138.0 213.1,137.2 215.6,136.3 218.2,135.3 220.8,134.3 223.3,133.1 225.9,132.0 228.4,130.8 231.0,129.6 233.5,128.3 236.1,127.0 238.7,125.7 241.2,124.4 243.8,123.1 246.3,121.9 248.9,120.6 251.4,119.3 254.0,118.0 256.6,116.7 259.1,115.4 261.7,114.1 264.2,112.7 266.8,111.3 269.4,109.8 271.9,108.3 274.5,106.7 277.0,105.1 279.6,103.5 282.1,101.8 284.7,100.1 287.3,98.4 289.8,96.6 292.4,94.8 294.9,93.0 297.5,91.1 300.1,89.3 302.6,87.4 305.2,85.6 307.7,83.9 310.3,82.1 312.8,80.3 315.4,78.6" fill="none" stroke="#000000" stroke-width="0.75" stroke-opacity="0.9"/>
<polyline points="315.4,105.1 312.8,105.8 310.3,106.4 307.7,107.0 305.2,107.6 302.6,108.3 300.1,109.0 297.5,109.7 294.9,110.4 292.4,111.1 289.8,111.8 287.3,112.5 284.7,113.1 282.1,113.8 279.6,114.5 277.0,115.2 274.5,116.0 271.9,116.7 269.4,117.4 266.8,118.2 264.2,119.0 261.7,119.9 259.1,120.9 256.6,121.8 254.0,122.8 251.4,123.8 248.9,124.8 246.3,125.8 243.8,126.8 241.2,127.8 238.7,128.8 236.1,129.8 233.5,130.9 231.0,131.9 228.4,132.9 225.9,133.9 223.3,134.8 220.8,135.7 218.2,136.6 215.6,137.4 213.1,138.2 210.5,138.9 208.0,139.6 205.4,140.2 202.8,140.7 200.3,140.8 197.7,140.8 195.2,140.8 192.6,140.8 190.1,140.8 187.5,140.8" fill="none" stroke="#000000" stroke-width="0.75" stroke-opacity="0.9"/>
<polyline points="187.5,140.8 190.1,140.8 192.6,140.8 195.2,140.8 197.7,140.7 200.3,140.7 202.8,140.4 205.4,139.9 208.0,139.2 210.5,138.4 213.1,137.7 215.6,136.9 218.2,136.0 220.8,135.0 223.3,134.0 225.9,132.9 228.4,131.9 231.0,130.7 233.5,129.6 236.1,128.4 238.7,127.2 241.2,126.1 243.8,125.0 246.3,123.8 248.9,122.7 251.4,121.6 254.0,120.4 256.6,119.3 259.1,118.1 261.7,117.0 264.2,115.9 266.8,114.7 269.4,113.6 271.9,112.5 274.5,111.3 277.0,110.2 279.6,109.0 282.1,107.8 284.7,106.6 287.3,105.4 289.8,104.2 292.4,102.9 294.9,101.7 297.5,100.4 300.1,99.1 302.6,97.9 305.2,96.6 307.7,95.4 310.3,94.2 312.8,93.1 315.4,91.9" fill="none" stroke="#000000" stroke-width="2.6" stroke-linejoin="round"/>
<polygon points="187.5,140.8 190.1,140.8 192.6,140.8 195.2,140.7 197.7,140.7 200.3,140.6 202.8,140.4 205.4,139.9 208.0,139.3 210.5,138.7 213.1,138.0 215.6,137.3 218.2,136.5 220.8,135.6 223.3,134.7 225.9,133.7 228.4,132.7 231.0,131.7 233.5,130.6 236.1,129.5 238.7,128.4 241.2,127.2 243.8,126.1 246.3,125.0 248.9,123.9 251.4,122.8 254.0,121.8 256.6,120.9 259.1,119.9 261.7,119.0 264.2,118.1 266.8,117.2 269.4,116.3 271.9,115.4 274.5,114.5 277.0,113.7 279.6,112.8 282.1,111.9 284.7,111.1 287.3,110.3 289.8,109.6 292.4,108.9 294.9,108.4 297.5,107.9 300.1,107.4 302.6,106.9 305.2,106.3 307.7,105.8 310.3,105.3 312.8,104.7 315.4,104.2 315.4,109.9 312.8,110.3 310.3,110.8 307.7,111.3 305.2,111.8 302.6,112.2 300.1,112.7 297.5,113.1 294.9,113.6 292.4,114.1 289.8,114.6 287.3,115.2 284.7,115.9 282.1,116.6 279.6,117.3 277.0,118.1 274.5,118.8 271.9,119.6 269.4,120.3 266.8,121.1 264.2,121.9 261.7,122.7 259.1,123.5 256.6,124.3 254.0,125.1 251.4,126.0 248.9,126.9 246.3,127.8 243.8,128.7 241.2,129.7 238.7,130.6 236.1,131.5 233.5,132.4 231.0,133.3 228.4,134.2 225.9,135.0 223.3,135.8 220.8,136.6 218.2,137.3 215.6,138.0 213.1,138.6 210.5,139.2 208.0,139.8 205.4,140.4 202.8,140.8 200.3,140.9 197.7,140.9 195.2,140.9 192.6,140.9 190.1,140.9 187.5,140.8" fill="#ffdc70" fill-opacity="0.45"/>
<polyline points="187.5,140.8 190.1,140.8 192.6,140.8 195.2,140.7 197.7,140.7 200.3,140.6 202.8,140.4 205.4,139.9 208.0,139.3 210.5,138.7 213.1,138.0 215.6,137.3 218.2,136.5 220.8,135.6 223.3,134.7 225.9,133.7 228.4,132.7 231.0,131.7 233.5,130.6 236.1,129.5 238.7,128.4 241.2,127.2 243.8,126.1 246.3,125.0 248.9,123.9 251.4,122.8 254.0,121.8 256.6,120.9 259.1,119.9 261.7,119.0 264.2,118.1 266.8,117.2 269.4,116.3 271.9,115.4 274.5,114.5 277.0,113.7 279.6,112.8 282.1,111.9 284.7,111.1 287.3,110.3 289.8,109.6 292.4,108.9 294.9,108.4 297.5,107.9 300.1,107.4 302.6,106.9 305.2,106.3 307.7,105.8 310.3,105.3 312.8,104.7 315.4,104.2" fill="none" stroke="#f0b040" stroke-width="0.75" stroke-opacity="0.9"/>
<polyline points="315.4,109.9 312.8,110.3 310.3,110.8 307.7,111.3 305.2,111.8 302.6,112.2 300.1,112.7 297.5,113.1 294.9,113.6 292.4,114.1 289.8,114.6 287.3,115.2 284.7,115.9 282.1,116.6 279.6,117.3 277.0,118.1 274.5,118.8 271.9,119.6 269.4,120.3 266.8,121.1 264.2,121.9 261.7,122.7 259.1,123.5 256.6,124.3 254.0,125.1 251.4,126.0 248.9,126.9 246.3,127.8 243.8,128.7 241.2,129.7 238.7,130.6 236.1,131.5 233.5,132.4 231.0,133.3 228.4,134.2 225.9,135.0 223.3,135.8 220.8,136.6 218.2,137.3 215.6,138.0 213.1,138.6 210.5,139.2 208.0,139.8 205.4,140.4 202.8,140.8 200.3,140.9 197.7,140.9 195.2,140.9 192.6,140.9 190.1,140.9 187.5,140.8" fill="none" stroke="#f0b040" stroke-width="0.75" stroke-opacity="0.9"/>
<polyline points="187.5,140.8 190.1,140.8 192.6,140.8 195.2,140.8 197.7,140.8 200.3,140.8 202.8,140.6 205.4,140.2 208.0,139.6 210.5,138.9 213.1,138.3 215.6,137.6 218.2,136.9 220.8,136.1 223.3,135.2 225.9,134.4 228.4,133.4 231.0,132.5 233.5,131.5 236.1,130.5 238.7,129.5 241.2,128.4 243.8,127.4 246.3,126.4 248.9,125.4 251.4,124.4 254.0,123.5 256.6,122.6 259.1,121.7 261.7,120.8 264.2,120.0 266.8,119.1 269.4,118.3 271.9,117.5 274.5,116.7 277.0,115.9 279.6,115.1 282.1,114.3 284.7,113.5 287.3,112.7 289.8,112.1 292.4,111.5 294.9,111.0 297.5,110.5 300.1,110.0 302.6,109.6 305.2,109.0 307.7,108.5 310.3,108.0 312.8,107.5 315.4,107.0" fill="none" stroke="#f7bd45" stroke-width="2.6" stroke-linejoin="round"/>
<polygon points="187.5,140.8 190.1,140.8 192.6,140.8 195.2,140.7 197.7,140.7 200.3,140.6 202.8,140.4 205.4,139.9 208.0,139.3 210.5,138.7 213.1,138.0 215.6,137.3 218.2,136.5 220.8,135.6 223.3,134.6 225.9,133.7 228.4,132.8 231.0,131.8 233.5,130.8 236.1,129.8 238.7,128.8 241.2,127.8 243.8,126.8 246.3,125.9 248.9,124.9 251.4,123.9 254.0,123.0 256.6,122.1 259.1,121.2 261.7,120.3 264.2,119.5 266.8,118.7 269.4,117.9 271.9,117.2 274.5,116.5 277.0,115.7 279.6,115.0 282.1,114.2 284.7,113.4 287.3,112.7 289.8,111.9 292.4,111.2 294.9,110.4 297.5,109.7 300.1,109.0 302.6,108.3 305.2,107.6 307.7,107.0 310.3,106.4 312.8,105.8 315.4,105.2 315.4,112.1 312.8,112.6 310.3,113.1 307.7,113.6 305.2,114.1 302.6,114.6 300.1,115.1 297.5,115.6 294.9,116.2 292.4,116.7 289.8,117.3 287.3,117.9 284.7,118.5 282.1,119.2 279.6,119.8 277.0,120.5 274.5,121.1 271.9,121.7 269.4,122.3 266.8,122.9 264.2,123.6 261.7,124.3 259.1,125.1 256.6,125.8 254.0,126.6 251.4,127.4 248.9,128.2 246.3,129.0 243.8,129.8 241.2,130.6 238.7,131.4 236.1,132.2 233.5,133.0 231.0,133.8 228.4,134.6 225.9,135.3 223.3,136.0 220.8,136.7 218.2,137.4 215.6,138.0 213.1,138.6 210.5,139.2 208.0,139.8 205.4,140.4 202.8,140.8 200.3,140.9 197.7,140.9 195.2,140.9 192.6,140.9 190.1,140.9 187.5,140.8" fill="#f07a78" fill-opacity="0.45"/>
<polyline points="187.5,140.8 190.1,140.8 192.6,140.8 195.2,140.7 197.7,140.7 200.3,140.6 202.8,140.4 205.4,139.9 208.0,139.3 210.5,138.7 213.1,138.0 215.6,137.3 218.2,136.5 220.8,135.6 223.3,134.6 225.9,133.7 228.4,132.8 231.0,131.8 233.5,130.8 236.1,129.8 238.7,128.8 241.2,127.8 243.8,126.8 246.3,125.9 248.9,124.9 251.4,123.9 254.0,123.0 256.6,122.1 259.1,121.2 261.7,120.3 264.2,119.5 266.8,118.7 269.4,117.9 271.9,117.2 274.5,116.5 277.0,115.7 279.6,115.0 282.1,114.2 284.7,113.4 287.3,112.7 289.8,111.9 292.4,111.2 294.9,110.4 297.5,109.7 300.1,109.0 302.6,108.3 305.2,107.6 307.7,107.0 310.3,106.4 312.8,105.8 315.4,105.2" fill="none" stroke="#b01010" stroke-width="0.75" stroke-opacity="0.9"/>
<polyline points="315.4,112.1 312.8,112.6 310.3,113.1 307.7,113.6 305.2,114.1 302.6,114.6 300.1,115.1 297.5,115.6 294.9,116.2 292.4,116.7 289.8,117.3 287.3,117.9 284.7,118.5 282.1,119.2 279.6,119.8 277.0,120.5 274.5,121.1 271.9,121.7 269.4,122.3 266.8,122.9 264.2,123.6 261.7,124.3 259.1,125.1 256.6,125.8 254.0,126.6 251.4,127.4 248.9,128.2 246.3,129.0 243.8,129.8 241.2,130.6 238.7,131.4 236.1,132.2 233.5,133.0 231.0,133.8 228.4,134.6 225.9,135.3 223.3,136.0 220.8,136.7 218.2,137.4 215.6,138.0 213.1,138.6 210.5,139.2 208.0,139.8 205.4,140.4 202.8,140.8 200.3,140.9 197.7,140.9 195.2,140.9 192.6,140.9 190.1,140.9 187.5,140.8" fill="none" stroke="#b01010" stroke-width="0.75" stroke-opacity="0.9"/>
<polyline points="187.5,140.8 190.1,140.8 192.6,140.8 195.2,140.8 197.7,140.8 200.3,140.8 202.8,140.6 205.4,140.2 208.0,139.6 210.5,138.9 213.1,138.3 215.6,137.7 218.2,136.9 220.8,136.2 223.3,135.3 225.9,134.5 228.4,133.7 231.0,132.8 233.5,131.9 236.1,131.0 238.7,130.1 241.2,129.2 243.8,128.3 246.3,127.4 248.9,126.5 251.4,125.7 254.0,124.8 256.6,124.0 259.1,123.1 261.7,122.3 264.2,121.6 266.8,120.8 269.4,120.1 271.9,119.4 274.5,118.8 277.0,118.1 279.6,117.4 282.1,116.7 284.7,116.0 287.3,115.3 289.8,114.6 292.4,114.0 294.9,113.3 297.5,112.7 300.1,112.1 302.6,111.4 305.2,110.9 307.7,110.3 310.3,109.7 312.8,109.2 315.4,108.6" fill="none" stroke="#c81818" stroke-width="2.6" stroke-linejoin="round"/>
<polygon points="187.5,140.8 190.1,140.8 192.6,140.8 195.2,140.8 197.7,140.7 200.3,140.7 202.8,140.5 205.4,140.2 208.0,139.8 210.5,139.3 213.1,138.8 215.6,138.3 218.2,137.7 220.8,137.1 223.3,136.4 225.9,135.8 228.4,135.1 231.0,134.4 233.5,133.6 236.1,132.9 238.7,132.1 241.2,131.4 243.8,130.7 246.3,129.9 248.9,129.2 251.4,128.5 254.0,127.8 256.6,127.2 259.1,126.5 261.7,125.9 264.2,125.2 266.8,124.5 269.4,123.9 271.9,123.2 274.5,122.5 277.0,121.9 279.6,121.2 282.1,120.5 284.7,119.8 287.3,119.1 289.8,118.4 292.4,117.7 294.9,117.1 297.5,116.4 300.1,115.7 302.6,115.1 305.2,114.4 307.7,113.8 310.3,113.2 312.8,112.5 315.4,111.9 315.4,120.7 312.8,121.1 310.3,121.5 307.7,121.9 305.2,122.3 302.6,122.7 300.1,123.1 297.5,123.5 294.9,123.9 292.4,124.3 289.8,124.7 287.3,125.1 284.7,125.6 282.1,126.0 279.6,126.5 277.0,126.9 274.5,127.4 271.9,127.9 269.4,128.3 266.8,128.8 264.2,129.3 261.7,129.8 259.1,130.2 256.6,130.7 254.0,131.2 251.4,131.7 248.9,132.2 246.3,132.7 243.8,133.3 241.2,133.8 238.7,134.4 236.1,134.9 233.5,135.4 231.0,136.0 228.4,136.5 225.9,137.0 223.3,137.6 220.8,138.1 218.2,138.5 215.6,139.0 213.1,139.4 210.5,139.8 208.0,140.2 205.4,140.6 202.8,140.9 200.3,141.0 197.7,141.0 195.2,141.0 192.6,140.9 190.1,140.9 187.5,140.8" fill="#98f070" fill-opacity="0.45"/>
<polyline points="187.5,140.8 190.1,140.8 192.6,140.8 195.2,140.8 197.7,140.7 200.3,140.7 202.8,140.5 205.4,140.2 208.0,139.8 210.5,139.3 213.1,138.8 215.6,138.3 218.2,137.7 220.8,137.1 223.3,136.4 225.9,135.8 228.4,135.1 231.0,134.4 233.5,133.6 236.1,132.9 238.7,132.1 241.2,131.4 243.8,130.7 246.3,129.9 248.9,129.2 251.4,128.5 254.0,127.8 256.6,127.2 259.1,126.5 261.7,125.9 264.2,125.2 266.8,124.5 269.4,123.9 271.9,123.2 274.5,122.5 277.0,121.9 279.6,121.2 282.1,120.5 284.7,119.8 287.3,119.1 289.8,118.4 292.4,117.7 294.9,117.1 297.5,116.4 300.1,115.7 302.6,115.1 305.2,114.4 307.7,113.8 310.3,113.2 312.8,112.5 315.4,111.9" fill="none" stroke="#60d040" stroke-width="0.75" stroke-opacity="0.9"/>
<polyline points="315.4,120.7 312.8,121.1 310.3,121.5 307.7,121.9 305.2,122.3 302.6,122.7 300.1,123.1 297.5,123.5 294.9,123.9 292.4,124.3 289.8,124.7 287.3,125.1 284.7,125.6 282.1,126.0 279.6,126.5 277.0,126.9 274.5,127.4 271.9,127.9 269.4,128.3 266.8,128.8 264.2,129.3 261.7,129.8 259.1,130.2 256.6,130.7 254.0,131.2 251.4,131.7 248.9,132.2 246.3,132.7 243.8,133.3 241.2,133.8 238.7,134.4 236.1,134.9 233.5,135.4 231.0,136.0 228.4,136.5 225.9,137.0 223.3,137.6 220.8,138.1 218.2,138.5 215.6,139.0 213.1,139.4 210.5,139.8 208.0,140.2 205.4,140.6 202.8,140.9 200.3,141.0 197.7,141.0 195.2,141.0 192.6,140.9 190.1,140.9 187.5,140.8" fill="none" stroke="#60d040" stroke-width="0.75" stroke-opacity="0.9"/>
<polyline points="187.5,140.8 190.1,140.8 192.6,140.8 195.2,140.8 197.7,140.8 200.3,140.8 202.8,140.7 205.4,140.4 208.0,140.0 210.5,139.5 213.1,139.1 215.6,138.6 218.2,138.1 220.8,137.6 223.3,137.0 225.9,136.4 228.4,135.8 231.0,135.2 233.5,134.5 236.1,133.9 238.7,133.3 241.2,132.6 243.8,132.0 246.3,131.3 248.9,130.7 251.4,130.1 254.0,129.5 256.6,128.9 259.1,128.4 261.7,127.8 264.2,127.2 266.8,126.7 269.4,126.1 271.9,125.5 274.5,125.0 277.0,124.4 279.6,123.8 282.1,123.3 284.7,122.7 287.3,122.1 289.8,121.6 292.4,121.0 294.9,120.5 297.5,119.9 300.1,119.4 302.6,118.9 305.2,118.4 307.7,117.8 310.3,117.3 312.8,116.8 315.4,116.3" fill="none" stroke="#84ea50" stroke-width="2.6" stroke-linejoin="round"/>
<polygon points="187.5,140.8 190.1,140.8 192.6,140.8 195.2,140.8 197.7,140.8 200.3,140.8 202.8,140.7 205.4,140.6 208.0,140.3 210.5,140.1 213.1,139.8 215.6,139.5 218.2,139.3 220.8,138.9 223.3,138.6 225.9,138.3 228.4,138.0 231.0,137.6 233.5,137.3 236.1,136.9 238.7,136.6 241.2,136.2 243.8,135.9 246.3,135.6 248.9,135.2 251.4,134.8 254.0,134.4 256.6,134.0 259.1,133.5 261.7,133.1 264.2,132.6 266.8,132.2 269.4,131.7 271.9,131.3 274.5,130.9 277.0,130.4 279.6,129.9 282.1,129.5 284.7,129.0 287.3,128.5 289.8,128.0 292.4,127.6 294.9,127.1 297.5,126.6 300.1,126.1 302.6,125.7 305.2,125.2 307.7,124.8 310.3,124.3 312.8,123.8 315.4,123.4 315.4,130.0 312.8,130.3 310.3,130.6 307.7,130.8 305.2,131.1 302.6,131.4 300.1,131.6 297.5,131.9 294.9,132.2 292.4,132.5 289.8,132.8 287.3,133.1 284.7,133.3 282.1,133.6 279.6,133.9 277.0,134.2 274.5,134.5 271.9,134.8 269.4,135.2 266.8,135.5 264.2,135.8 261.7,136.1 259.1,136.3 256.6,136.6 254.0,136.8 251.4,137.0 248.9,137.3 246.3,137.5 243.8,137.7 241.2,137.9 238.7,138.2 236.1,138.4 233.5,138.6 231.0,138.8 228.4,139.0 225.9,139.3 223.3,139.5 220.8,139.7 218.2,139.9 215.6,140.1 213.1,140.3 210.5,140.5 208.0,140.7 205.4,140.8 202.8,140.9 200.3,141.0 197.7,141.0 195.2,141.0 192.6,140.9 190.1,140.9 187.5,140.8" fill="#7070f0" fill-opacity="0.45"/>
<polyline points="187.5,140.8 190.1,140.8 192.6,140.8 195.2,140.8 197.7,140.8 200.3,140.8 202.8,140.7 205.4,140.6 208.0,140.3 210.5,140.1 213.1,139.8 215.6,139.5 218.2,139.3 220.8,138.9 223.3,138.6 225.9,138.3 228.4,138.0 231.0,137.6 233.5,137.3 236.1,136.9 238.7,136.6 241.2,136.2 243.8,135.9 246.3,135.6 248.9,135.2 251.4,134.8 254.0,134.4 256.6,134.0 259.1,133.5 261.7,133.1 264.2,132.6 266.8,132.2 269.4,131.7 271.9,131.3 274.5,130.9 277.0,130.4 279.6,129.9 282.1,129.5 284.7,129.0 287.3,128.5 289.8,128.0 292.4,127.6 294.9,127.1 297.5,126.6 300.1,126.1 302.6,125.7 305.2,125.2 307.7,124.8 310.3,124.3 312.8,123.8 315.4,123.4" fill="none" stroke="#2020b0" stroke-width="0.75" stroke-opacity="0.9"/>
<polyline points="315.4,130.0 312.8,130.3 310.3,130.6 307.7,130.8 305.2,131.1 302.6,131.4 300.1,131.6 297.5,131.9 294.9,132.2 292.4,132.5 289.8,132.8 287.3,133.1 284.7,133.3 282.1,133.6 279.6,133.9 277.0,134.2 274.5,134.5 271.9,134.8 269.4,135.2 266.8,135.5 264.2,135.8 261.7,136.1 259.1,136.3 256.6,136.6 254.0,136.8 251.4,137.0 248.9,137.3 246.3,137.5 243.8,137.7 241.2,137.9 238.7,138.2 236.1,138.4 233.5,138.6 231.0,138.8 228.4,139.0 225.9,139.3 223.3,139.5 220.8,139.7 218.2,139.9 215.6,140.1 213.1,140.3 210.5,140.5 208.0,140.7 205.4,140.8 202.8,140.9 200.3,141.0 197.7,141.0 195.2,141.0 192.6,140.9 190.1,140.9 187.5,140.8" fill="none" stroke="#2020b0" stroke-width="0.75" stroke-opacity="0.9"/>
<polyline points="187.5,140.8 190.1,140.9 192.6,140.9 195.2,140.9 197.7,140.9 200.3,140.9 202.8,140.8 205.4,140.7 208.0,140.5 210.5,140.3 213.1,140.0 215.6,139.8 218.2,139.6 220.8,139.3 223.3,139.1 225.9,138.8 228.4,138.5 231.0,138.2 233.5,137.9 236.1,137.6 238.7,137.4 241.2,137.1 243.8,136.8 246.3,136.5 248.9,136.2 251.4,135.9 254.0,135.6 256.6,135.3 259.1,134.9 261.7,134.6 264.2,134.2 266.8,133.8 269.4,133.5 271.9,133.1 274.5,132.7 277.0,132.3 279.6,131.9 282.1,131.5 284.7,131.2 287.3,130.8 289.8,130.4 292.4,130.0 294.9,129.6 297.5,129.3 300.1,128.9 302.6,128.5 305.2,128.1 307.7,127.8 310.3,127.4 312.8,127.1 315.4,126.7" fill="none" stroke="#1616b8" stroke-width="2.6" stroke-linejoin="round"/>
</g>
<clipPath id="cb1"><rect x="187.5" y="152.3" width="127.90" height="126.30"/></clipPath>
<g clip-path="url(#cb1)">
<polygon points="187.5,278.6 190.1,278.0 192.6,277.4 195.2,276.8 197.7,276.2 200.3,275.6 202.8,274.9 205.4,274.2 208.0,273.5 210.5,272.7 213.1,271.9 215.6,271.0 218.2,270.0 220.8,269.0 223.3,267.9 225.9,266.8 228.4,265.7 231.0,264.5 233.5,263.3 236.1,262.0 238.7,260.7 241.2,259.4 243.8,258.1 246.3,256.7 248.9,255.3 251.4,254.0 254.0,252.7 256.6,251.4 259.1,250.1 261.7,248.8 264.2,247.6 266.8,246.3 269.4,245.1 271.9,244.0 274.5,242.7 277.0,241.5 279.6,240.2 282.1,238.8 284.7,237.5 287.3,236.1 289.8,234.8 292.4,233.5 294.9,232.2 297.5,230.9 300.1,229.7 302.6,228.3 305.2,227.0 307.7,225.6 310.3,224.1 312.8,222.7 315.4,221.3 315.4,248.2 312.8,248.6 310.3,248.9 307.7,249.3 305.2,249.6 302.6,249.9 300.1,250.3 297.5,250.6 294.9,250.9 292.4,251.3 289.8,251.6 287.3,252.0 284.7,252.4 282.1,252.7 279.6,253.2 277.0,253.6 274.5,254.2 271.9,254.9 269.4,255.6 266.8,256.3 264.2,257.0 261.7,257.7 259.1,258.5 256.6,259.2 254.0,260.0 251.4,260.7 248.9,261.5 246.3,262.3 243.8,263.1 241.2,264.0 238.7,264.8 236.1,265.6 233.5,266.4 231.0,267.2 228.4,268.0 225.9,268.8 223.3,269.6 220.8,270.4 218.2,271.1 215.6,271.8 213.1,272.5 210.5,273.2 208.0,273.8 205.4,274.4 202.8,275.0 200.3,275.6 197.7,276.2 195.2,276.8 192.6,277.4 190.1,278.0 187.5,278.6" fill="#777777" fill-opacity="0.45"/>
<polyline points="187.5,278.6 190.1,278.0 192.6,277.4 195.2,276.8 197.7,276.2 200.3,275.6 202.8,274.9 205.4,274.2 208.0,273.5 210.5,272.7 213.1,271.9 215.6,271.0 218.2,270.0 220.8,269.0 223.3,267.9 225.9,266.8 228.4,265.7 231.0,264.5 233.5,263.3 236.1,262.0 238.7,260.7 241.2,259.4 243.8,258.1 246.3,256.7 248.9,255.3 251.4,254.0 254.0,252.7 256.6,251.4 259.1,250.1 261.7,248.8 264.2,247.6 266.8,246.3 269.4,245.1 271.9,244.0 274.5,242.7 277.0,241.5 279.6,240.2 282.1,238.8 284.7,237.5 287.3,236.1 289.8,234.8 292.4,233.5 294.9,232.2 297.5,230.9 300.1,229.7 302.6,228.3 305.2,227.0 307.7,225.6 310.3,224.1 312.8,222.7 315.4,221.3" fill="none" stroke="#000000" stroke-width="0.75" stroke-opacity="0.9"/>
<polyline points="315.4,248.2 312.8,248.6 310.3,248.9 307.7,249.3 305.2,249.6 302.6,249.9 300.1,250.3 297.5,250.6 294.9,250.9 292.4,251.3 289.8,251.6 287.3,252.0 284.7,252.4 282.1,252.7 279.6,253.2 277.0,253.6 274.5,254.2 271.9,254.9 269.4,255.6 266.8,256.3 264.2,257.0 261.7,257.7 259.1,258.5 256.6,259.2 254.0,260.0 251.4,260.7 248.9,261.5 246.3,262.3 243.8,263.1 241.2,264.0 238.7,264.8 236.1,265.6 233.5,266.4 231.0,267.2 228.4,268.0 225.9,268.8 223.3,269.6 220.8,270.4 218.2,271.1 215.6,271.8 213.1,272.5 210.5,273.2 208.0,273.8 205.4,274.4 202.8,275.0 200.3,275.6 197.7,276.2 195.2,276.8 192.6,277.4 190.1,278.0 187.5,278.6" fill="none" stroke="#000000" stroke-width="0.75" stroke-opacity="0.9"/>
<polyline points="187.5,278.6 190.1,278.0 192.6,277.4 195.2,276.8 197.7,276.2 200.3,275.6 202.8,274.9 205.4,274.3 208.0,273.6 210.5,272.9 213.1,272.2 215.6,271.4 218.2,270.5 220.8,269.7 223.3,268.7 225.9,267.8 228.4,266.8 231.0,265.9 233.5,264.8 236.1,263.8 238.7,262.7 241.2,261.7 243.8,260.6 246.3,259.5 248.9,258.4 251.4,257.4 254.0,256.3 256.6,255.3 259.1,254.3 261.7,253.3 264.2,252.3 266.8,251.3 269.4,250.4 271.9,249.4 274.5,248.5 277.0,247.6 279.6,246.7 282.1,245.8 284.7,244.9 287.3,244.0 289.8,243.2 292.4,242.4 294.9,241.6 297.5,240.8 300.1,240.0 302.6,239.1 305.2,238.3 307.7,237.4 310.3,236.5 312.8,235.6 315.4,234.8" fill="none" stroke="#000000" stroke-width="2.6" stroke-linejoin="round"/>
<polygon points="187.5,278.6 190.1,278.0 192.6,277.4 195.2,276.8 197.7,276.2 200.3,275.6 202.8,274.9 205.4,274.3 208.0,273.6 210.5,272.9 213.1,272.2 215.6,271.4 218.2,270.6 220.8,269.8 223.3,269.0 225.9,268.1 228.4,267.3 231.0,266.4 233.5,265.5 236.1,264.6 238.7,263.8 241.2,262.9 243.8,261.9 246.3,261.0 248.9,260.1 251.4,259.4 254.0,258.7 256.6,258.1 259.1,257.5 261.7,256.9 264.2,256.3 266.8,255.8 269.4,255.2 271.9,254.7 274.5,254.2 277.0,253.6 279.6,253.1 282.1,252.6 284.7,252.1 287.3,251.7 289.8,251.3 292.4,250.9 294.9,250.6 297.5,250.3 300.1,250.1 302.6,249.8 305.2,249.5 307.7,249.2 310.3,248.9 312.8,248.5 315.4,248.2 315.4,253.6 312.8,253.9 310.3,254.1 307.7,254.3 305.2,254.6 302.6,254.8 300.1,255.0 297.5,255.3 294.9,255.5 292.4,255.7 289.8,256.0 287.3,256.3 284.7,256.6 282.1,257.0 279.6,257.3 277.0,257.7 274.5,258.1 271.9,258.5 269.4,258.9 266.8,259.3 264.2,259.7 261.7,260.1 259.1,260.6 256.6,261.0 254.0,261.5 251.4,262.1 248.9,262.7 246.3,263.4 243.8,264.2 241.2,265.0 238.7,265.8 236.1,266.5 233.5,267.3 231.0,268.0 228.4,268.8 225.9,269.5 223.3,270.2 220.8,270.9 218.2,271.6 215.6,272.2 213.1,272.9 210.5,273.4 208.0,274.0 205.4,274.5 202.8,275.0 200.3,275.6 197.7,276.1 195.2,276.8 192.6,277.4 190.1,278.0 187.5,278.6" fill="#f07a78" fill-opacity="0.45"/>
<polyline points="187.5,278.6 190.1,278.0 192.6,277.4 195.2,276.8 197.7,276.2 200.3,275.6 202.8,274.9 205.4,274.3 208.0,273.6 210.5,272.9 213.1,272.2 215.6,271.4 218.2,270.6 220.8,269.8 223.3,269.0 225.9,268.1 228.4,267.3 231.0,266.4 233.5,265.5 236.1,264.6 238.7,263.8 241.2,262.9 243.8,261.9 246.3,261.0 248.9,260.1 251.4,259.4 254.0,258.7 256.6,258.1 259.1,257.5 261.7,256.9 264.2,256.3 266.8,255.8 269.4,255.2 271.9,254.7 274.5,254.2 277.0,253.6 279.6,253.1 282.1,252.6 284.7,252.1 287.3,251.7 289.8,251.3 292.4,250.9 294.9,250.6 297.5,250.3 300.1,250.1 302.6,249.8 305.2,249.5 307.7,249.2 310.3,248.9 312.8,248.5 315.4,248.2" fill="none" stroke="#b01010" stroke-width="0.75" stroke-opacity="0.9"/>
<polyline points="315.4,253.6 312.8,253.9 310.3,254.1 307.7,254.3 305.2,254.6 302.6,254.8 300.1,255.0 297.5,255.3 294.9,255.5 292.4,255.7 289.8,256.0 287.3,256.3 284.7,256.6 282.1,257.0 279.6,257.3 277.0,257.7 274.5,258.1 271.9,258.5 269.4,258.9 266.8,259.3 264.2,259.7 261.7,260.1 259.1,260.6 256.6,261.0 254.0,261.5 251.4,262.1 248.9,262.7 246.3,263.4 243.8,264.2 241.2,265.0 238.7,265.8 236.1,266.5 233.5,267.3 231.0,268.0 228.4,268.8 225.9,269.5 223.3,270.2 220.8,270.9 218.2,271.6 215.6,272.2 213.1,272.9 210.5,273.4 208.0,274.0 205.4,274.5 202.8,275.0 200.3,275.6 197.7,276.1 195.2,276.8 192.6,277.4 190.1,278.0 187.5,278.6" fill="none" stroke="#b01010" stroke-width="0.75" stroke-opacity="0.9"/>
<polyline points="187.5,278.6 190.1,278.0 192.6,277.4 195.2,276.8 197.7,276.2 200.3,275.6 202.8,275.0 205.4,274.4 208.0,273.8 210.5,273.2 213.1,272.5 215.6,271.8 218.2,271.1 220.8,270.4 223.3,269.6 225.9,268.8 228.4,268.0 231.0,267.2 233.5,266.4 236.1,265.6 238.7,264.8 241.2,263.9 243.8,263.1 246.3,262.2 248.9,261.4 251.4,260.7 254.0,260.1 256.6,259.5 259.1,259.0 261.7,258.5 264.2,258.0 266.8,257.5 269.4,257.0 271.9,256.6 274.5,256.1 277.0,255.7 279.6,255.2 282.1,254.8 284.7,254.4 287.3,254.0 289.8,253.6 292.4,253.3 294.9,253.1 297.5,252.8 300.1,252.6 302.6,252.3 305.2,252.0 307.7,251.8 310.3,251.5 312.8,251.2 315.4,250.9" fill="none" stroke="#c81818" stroke-width="2.6" stroke-linejoin="round"/>
<polygon points="187.5,278.6 190.1,278.0 192.6,277.4 195.2,276.8 197.7,276.2 200.3,275.6 202.8,275.0 205.4,274.4 208.0,273.7 210.5,273.1 213.1,272.5 215.6,271.9 218.2,271.3 220.8,270.7 223.3,270.1 225.9,269.5 228.4,268.9 231.0,268.3 233.5,267.7 236.1,267.1 238.7,266.5 241.2,265.8 243.8,265.2 246.3,264.6 248.9,264.0 251.4,263.4 254.0,262.9 256.6,262.4 259.1,262.0 261.7,261.5 264.2,261.1 266.8,260.6 269.4,260.1 271.9,259.6 274.5,259.1 277.0,258.7 279.6,258.3 282.1,257.8 284.7,257.4 287.3,257.1 289.8,256.7 292.4,256.3 294.9,256.0 297.5,255.6 300.1,255.3 302.6,255.0 305.2,254.7 307.7,254.3 310.3,254.0 312.8,253.6 315.4,253.3 315.4,259.4 312.8,259.6 310.3,259.8 307.7,260.0 305.2,260.2 302.6,260.4 300.1,260.6 297.5,260.8 294.9,261.0 292.4,261.2 289.8,261.4 287.3,261.6 284.7,261.9 282.1,262.2 279.6,262.5 277.0,262.7 274.5,263.1 271.9,263.4 269.4,263.7 266.8,264.1 264.2,264.4 261.7,264.8 259.1,265.1 256.6,265.4 254.0,265.7 251.4,266.1 248.9,266.5 246.3,267.0 243.8,267.5 241.2,268.0 238.7,268.5 236.1,269.0 233.5,269.4 231.0,269.9 228.4,270.4 225.9,270.8 223.3,271.3 220.8,271.8 218.2,272.3 215.6,272.7 213.1,273.2 210.5,273.7 208.0,274.1 205.4,274.6 202.8,275.1 200.3,275.6 197.7,276.1 195.2,276.7 192.6,277.3 190.1,278.0 187.5,278.6" fill="#98f070" fill-opacity="0.45"/>
<polyline points="187.5,278.6 190.1,278.0 192.6,277.4 195.2,276.8 197.7,276.2 200.3,275.6 202.8,275.0 205.4,274.4 208.0,273.7 210.5,273.1 213.1,272.5 215.6,271.9 218.2,271.3 220.8,270.7 223.3,270.1 225.9,269.5 228.4,268.9 231.0,268.3 233.5,267.7 236.1,267.1 238.7,266.5 241.2,265.8 243.8,265.2 246.3,264.6 248.9,264.0 251.4,263.4 254.0,262.9 256.6,262.4 259.1,262.0 261.7,261.5 264.2,261.1 266.8,260.6 269.4,260.1 271.9,259.6 274.5,259.1 277.0,258.7 279.6,258.3 282.1,257.8 284.7,257.4 287.3,257.1 289.8,256.7 292.4,256.3 294.9,256.0 297.5,255.6 300.1,255.3 302.6,255.0 305.2,254.7 307.7,254.3 310.3,254.0 312.8,253.6 315.4,253.3" fill="none" stroke="#60d040" stroke-width="0.75" stroke-opacity="0.9"/>
<polyline points="315.4,259.4 312.8,259.6 310.3,259.8 307.7,260.0 305.2,260.2 302.6,260.4 300.1,260.6 297.5,260.8 294.9,261.0 292.4,261.2 289.8,261.4 287.3,261.6 284.7,261.9 282.1,262.2 279.6,262.5 277.0,262.7 274.5,263.1 271.9,263.4 269.4,263.7 266.8,264.1 264.2,264.4 261.7,264.8 259.1,265.1 256.6,265.4 254.0,265.7 251.4,266.1 248.9,266.5 246.3,267.0 243.8,267.5 241.2,268.0 238.7,268.5 236.1,269.0 233.5,269.4 231.0,269.9 228.4,270.4 225.9,270.8 223.3,271.3 220.8,271.8 218.2,272.3 215.6,272.7 213.1,273.2 210.5,273.7 208.0,274.1 205.4,274.6 202.8,275.1 200.3,275.6 197.7,276.1 195.2,276.7 192.6,277.3 190.1,278.0 187.5,278.6" fill="none" stroke="#60d040" stroke-width="0.75" stroke-opacity="0.9"/>
<polyline points="187.5,278.6 190.1,278.0 192.6,277.4 195.2,276.8 197.7,276.1 200.3,275.6 202.8,275.0 205.4,274.5 208.0,273.9 210.5,273.4 213.1,272.9 215.6,272.3 218.2,271.8 220.8,271.2 223.3,270.7 225.9,270.2 228.4,269.6 231.0,269.1 233.5,268.5 236.1,268.0 238.7,267.5 241.2,266.9 243.8,266.4 246.3,265.8 248.9,265.3 251.4,264.8 254.0,264.3 256.6,263.9 259.1,263.5 261.7,263.1 264.2,262.7 266.8,262.3 269.4,261.9 271.9,261.5 274.5,261.1 277.0,260.7 279.6,260.4 282.1,260.0 284.7,259.7 287.3,259.3 289.8,259.0 292.4,258.7 294.9,258.5 297.5,258.2 300.1,258.0 302.6,257.7 305.2,257.4 307.7,257.1 310.3,256.9 312.8,256.6 315.4,256.3" fill="none" stroke="#84ea50" stroke-width="2.6" stroke-linejoin="round"/>
<polygon points="187.5,278.6 190.1,278.2 192.6,277.8 195.2,277.4 197.7,277.0 200.3,276.6 202.8,276.2 205.4,275.8 208.0,275.4 210.5,275.1 213.1,274.7 215.6,274.4 218.2,274.1 220.8,273.8 223.3,273.5 225.9,273.2 228.4,272.9 231.0,272.6 233.5,272.3 236.1,272.0 238.7,271.7 241.2,271.3 243.8,271.0 246.3,270.6 248.9,270.2 251.4,269.8 254.0,269.5 256.6,269.1 259.1,268.8 261.7,268.5 264.2,268.1 266.8,267.8 269.4,267.5 271.9,267.2 274.5,266.9 277.0,266.6 279.6,266.3 282.1,265.9 284.7,265.6 287.3,265.3 289.8,264.9 292.4,264.7 294.9,264.4 297.5,264.1 300.1,263.9 302.6,263.6 305.2,263.3 307.7,262.9 310.3,262.6 312.8,262.2 315.4,261.9 315.4,267.0 312.8,267.2 310.3,267.4 307.7,267.6 305.2,267.8 302.6,268.0 300.1,268.1 297.5,268.3 294.9,268.4 292.4,268.5 289.8,268.6 287.3,268.8 284.7,269.0 282.1,269.2 279.6,269.4 277.0,269.7 274.5,269.9 271.9,270.1 269.4,270.4 266.8,270.6 264.2,270.8 261.7,271.0 259.1,271.2 256.6,271.4 254.0,271.6 251.4,271.9 248.9,272.1 246.3,272.4 243.8,272.8 241.2,273.1 238.7,273.4 236.1,273.6 233.5,273.9 231.0,274.1 228.4,274.3 225.9,274.6 223.3,274.8 220.8,275.0 218.2,275.2 215.6,275.5 213.1,275.7 210.5,276.0 208.0,276.3 205.4,276.6 202.8,277.0 200.3,277.3 197.7,277.5 195.2,277.8 192.6,278.1 190.1,278.3 187.5,278.6" fill="#7070f0" fill-opacity="0.45"/>
<polyline points="187.5,278.6 190.1,278.2 192.6,277.8 195.2,277.4 197.7,277.0 200.3,276.6 202.8,276.2 205.4,275.8 208.0,275.4 210.5,275.1 213.1,274.7 215.6,274.4 218.2,274.1 220.8,273.8 223.3,273.5 225.9,273.2 228.4,272.9 231.0,272.6 233.5,272.3 236.1,272.0 238.7,271.7 241.2,271.3 243.8,271.0 246.3,270.6 248.9,270.2 251.4,269.8 254.0,269.5 256.6,269.1 259.1,268.8 261.7,268.5 264.2,268.1 266.8,267.8 269.4,267.5 271.9,267.2 274.5,266.9 277.0,266.6 279.6,266.3 282.1,265.9 284.7,265.6 287.3,265.3 289.8,264.9 292.4,264.7 294.9,264.4 297.5,264.1 300.1,263.9 302.6,263.6 305.2,263.3 307.7,262.9 310.3,262.6 312.8,262.2 315.4,261.9" fill="none" stroke="#2020b0" stroke-width="0.75" stroke-opacity="0.9"/>
<polyline points="315.4,267.0 312.8,267.2 310.3,267.4 307.7,267.6 305.2,267.8 302.6,268.0 300.1,268.1 297.5,268.3 294.9,268.4 292.4,268.5 289.8,268.6 287.3,268.8 284.7,269.0 282.1,269.2 279.6,269.4 277.0,269.7 274.5,269.9 271.9,270.1 269.4,270.4 266.8,270.6 264.2,270.8 261.7,271.0 259.1,271.2 256.6,271.4 254.0,271.6 251.4,271.9 248.9,272.1 246.3,272.4 243.8,272.8 241.2,273.1 238.7,273.4 236.1,273.6 233.5,273.9 231.0,274.1 228.4,274.3 225.9,274.6 223.3,274.8 220.8,275.0 218.2,275.2 215.6,275.5 213.1,275.7 210.5,276.0 208.0,276.3 205.4,276.6 202.8,277.0 200.3,277.3 197.7,277.5 195.2,277.8 192.6,278.1 190.1,278.3 187.5,278.6" fill="none" stroke="#2020b0" stroke-width="0.75" stroke-opacity="0.9"/>
<polyline points="187.5,278.6 190.1,278.3 192.6,277.9 195.2,277.6 197.7,277.3 200.3,276.9 202.8,276.6 205.4,276.2 208.0,275.9 210.5,275.5 213.1,275.2 215.6,274.9 218.2,274.7 220.8,274.4 223.3,274.1 225.9,273.9 228.4,273.6 231.0,273.4 233.5,273.1 236.1,272.8 238.7,272.5 241.2,272.2 243.8,271.9 246.3,271.5 248.9,271.2 251.4,270.8 254.0,270.6 256.6,270.3 259.1,270.0 261.7,269.8 264.2,269.5 266.8,269.2 269.4,269.0 271.9,268.7 274.5,268.4 277.0,268.1 279.6,267.9 282.1,267.6 284.7,267.3 287.3,267.0 289.8,266.8 292.4,266.6 294.9,266.4 297.5,266.2 300.1,266.0 302.6,265.8 305.2,265.5 307.7,265.3 310.3,265.0 312.8,264.7 315.4,264.4" fill="none" stroke="#1616b8" stroke-width="2.6" stroke-linejoin="round"/>
</g>
<line x1="187.50" y1="110.50" x2="192.00" y2="110.50" stroke="#4a4a4a" stroke-width="1.25" />
<line x1="315.40" y1="110.50" x2="310.90" y2="110.50" stroke="#4a4a4a" stroke-width="1.25" />
<line x1="187.50" y1="78.90" x2="192.00" y2="78.90" stroke="#4a4a4a" stroke-width="1.25" />
<line x1="315.40" y1="78.90" x2="310.90" y2="78.90" stroke="#4a4a4a" stroke-width="1.25" />
<line x1="187.50" y1="47.30" x2="192.00" y2="47.30" stroke="#4a4a4a" stroke-width="1.25" />
<line x1="315.40" y1="47.30" x2="310.90" y2="47.30" stroke="#4a4a4a" stroke-width="1.25" />
<line x1="251.45" y1="142.10" x2="251.45" y2="137.60" stroke="#4a4a4a" stroke-width="1.25" />
<line x1="251.45" y1="15.70" x2="251.45" y2="20.20" stroke="#4a4a4a" stroke-width="1.25" />
<rect x="187.50" y="15.70" width="127.90" height="126.40" fill="none" stroke="#4a4a4a" stroke-width="1.25"/>
<line x1="187.50" y1="244.87" x2="192.00" y2="244.87" stroke="#4a4a4a" stroke-width="1.25" />
<line x1="315.40" y1="244.87" x2="310.90" y2="244.87" stroke="#4a4a4a" stroke-width="1.25" />
<line x1="187.50" y1="211.14" x2="192.00" y2="211.14" stroke="#4a4a4a" stroke-width="1.25" />
<line x1="315.40" y1="211.14" x2="310.90" y2="211.14" stroke="#4a4a4a" stroke-width="1.25" />
<line x1="187.50" y1="177.41" x2="192.00" y2="177.41" stroke="#4a4a4a" stroke-width="1.25" />
<line x1="315.40" y1="177.41" x2="310.90" y2="177.41" stroke="#4a4a4a" stroke-width="1.25" />
<line x1="251.45" y1="278.60" x2="251.45" y2="274.10" stroke="#4a4a4a" stroke-width="1.25" />
<line x1="251.45" y1="152.30" x2="251.45" y2="156.80" stroke="#4a4a4a" stroke-width="1.25" />
<rect x="187.50" y="152.30" width="127.90" height="126.30" fill="none" stroke="#4a4a4a" stroke-width="1.25"/>
<text transform="translate(251.45,13.30) scale(1.0,1.05)" font-size="13.3" text-anchor="middle" font-weight="normal" fill="#101010" stroke="#101010" stroke-width="0.15" >Donor 2</text>
<text transform="translate(189.70,291.80) scale(1.0,1.04)" font-size="10.0" text-anchor="middle" font-weight="normal" fill="#1c1c1c" stroke="#1c1c1c" stroke-width="0.28" >0</text>
<text transform="translate(251.45,291.80) scale(1.0,1.04)" font-size="10.0" text-anchor="middle" font-weight="normal" fill="#1c1c1c" stroke="#1c1c1c" stroke-width="0.28" >250</text>
<text transform="translate(307.80,291.80) scale(1.0,1.04)" font-size="10.0" text-anchor="middle" font-weight="normal" fill="#1c1c1c" stroke="#1c1c1c" stroke-width="0.28" >500</text>
<clipPath id="ca2"><rect x="327.1" y="15.7" width="128.30" height="126.40"/></clipPath>
<g clip-path="url(#ca2)">
<polygon points="327.1,140.8 329.7,140.8 332.2,140.8 334.8,140.8 337.4,140.7 339.9,140.7 342.5,140.5 345.1,140.0 347.6,139.3 350.2,138.6 352.8,137.8 355.3,137.1 357.9,136.2 360.5,135.2 363.0,134.1 365.6,132.9 368.2,131.7 370.7,130.3 373.3,128.8 375.9,127.3 378.4,125.7 381.0,124.0 383.6,122.3 386.1,120.5 388.7,118.6 391.2,116.8 393.8,115.0 396.4,113.2 398.9,111.3 401.5,109.5 404.1,107.7 406.6,105.8 409.2,104.0 411.8,102.1 414.3,100.3 416.9,98.5 419.5,96.7 422.0,95.0 424.6,93.3 427.2,91.6 429.7,90.0 432.3,88.3 434.9,86.8 437.4,85.2 440.0,83.6 442.6,82.1 445.1,80.5 447.7,78.9 450.3,77.4 452.8,75.8 455.4,74.3 455.4,108.8 452.8,109.4 450.3,110.0 447.7,110.6 445.1,111.2 442.6,111.8 440.0,112.3 437.4,112.9 434.9,113.4 432.3,114.0 429.7,114.6 427.2,115.2 424.6,115.9 422.0,116.6 419.5,117.3 416.9,118.1 414.3,118.9 411.8,119.6 409.2,120.5 406.6,121.3 404.1,122.2 401.5,123.1 398.9,124.0 396.4,125.0 393.8,126.0 391.2,126.9 388.7,127.9 386.1,129.0 383.6,130.0 381.0,131.0 378.4,132.0 375.9,132.9 373.3,133.8 370.7,134.6 368.2,135.4 365.6,136.1 363.0,136.8 360.5,137.4 357.9,138.0 355.3,138.6 352.8,139.1 350.2,139.6 347.6,140.1 345.1,140.5 342.5,140.9 339.9,141.0 337.4,141.0 334.8,141.0 332.2,140.9 329.7,140.9 327.1,140.8" fill="#777777" fill-opacity="0.45"/>
<polyline points="327.1,140.8 329.7,140.8 332.2,140.8 334.8,140.8 337.4,140.7 339.9,140.7 342.5,140.5 345.1,140.0 347.6,139.3 350.2,138.6 352.8,137.8 355.3,137.1 357.9,136.2 360.5,135.2 363.0,134.1 365.6,132.9 368.2,131.7 370.7,130.3 373.3,128.8 375.9,127.3 378.4,125.7 381.0,124.0 383.6,122.3 386.1,120.5 388.7,118.6 391.2,116.8 393.8,115.0 396.4,113.2 398.9,111.3 401.5,109.5 404.1,107.7 406.6,105.8 409.2,104.0 411.8,102.1 414.3,100.3 416.9,98.5 419.5,96.7 422.0,95.0 424.6,93.3 427.2,91.6 429.7,90.0 432.3,88.3 434.9,86.8 437.4,85.2 440.0,83.6 442.6,82.1 445.1,80.5 447.7,78.9 450.3,77.4 452.8,75.8 455.4,74.3" fill="none" stroke="#000000" stroke-width="0.75" stroke-opacity="0.9"/>
<polyline points="455.4,108.8 452.8,109.4 450.3,110.0 447.7,110.6 445.1,111.2 442.6,111.8 440.0,112.3 437.4,112.9 434.9,113.4 432.3,114.0 429.7,114.6 427.2,115.2 424.6,115.9 422.0,116.6 419.5,117.3 416.9,118.1 414.3,118.9 411.8,119.6 409.2,120.5 406.6,121.3 404.1,122.2 401.5,123.1 398.9,124.0 396.4,125.0 393.8,126.0 391.2,126.9 388.7,127.9 386.1,129.0 383.6,130.0 381.0,131.0 378.4,132.0 375.9,132.9 373.3,133.8 370.7,134.6 368.2,135.4 365.6,136.1 363.0,136.8 360.5,137.4 357.9,138.0 355.3,138.6 352.8,139.1 350.2,139.6 347.6,140.1 345.1,140.5 342.5,140.9 339.9,141.0 337.4,141.0 334.8,141.0 332.2,140.9 329.7,140.9 327.1,140.8" fill="none" stroke="#000000" stroke-width="0.75" stroke-opacity="0.9"/>
<polyline points="327.1,140.8 329.7,140.8 332.2,140.8 334.8,140.8 337.4,140.8 339.9,140.8 342.5,140.7 345.1,140.3 347.6,139.8 350.2,139.2 352.8,138.6 355.3,138.0 357.9,137.3 360.5,136.5 363.0,135.7 365.6,134.8 368.2,133.9 370.7,133.0 373.3,131.9 375.9,130.9 378.4,129.8 381.0,128.7 383.6,127.5 386.1,126.3 388.7,125.0 391.2,123.8 393.8,122.5 396.4,121.1 398.9,119.7 401.5,118.3 404.1,116.8 406.6,115.3 409.2,113.8 411.8,112.3 414.3,110.7 416.9,109.2 419.5,107.8 422.0,106.4 424.6,105.0 427.2,103.6 429.7,102.3 432.3,101.0 434.9,99.7 437.4,98.4 440.0,97.2 442.6,96.0 445.1,94.8 447.7,93.6 450.3,92.5 452.8,91.4 455.4,90.3" fill="none" stroke="#000000" stroke-width="2.6" stroke-linejoin="round"/>
<polygon points="327.1,140.8 329.7,140.8 332.2,140.7 334.8,140.7 337.4,140.6 339.9,140.5 342.5,140.2 345.1,139.6 347.6,138.8 350.2,137.8 352.8,136.9 355.3,135.8 357.9,134.6 360.5,133.2 363.0,131.8 365.6,130.4 368.2,129.1 370.7,127.7 373.3,126.3 375.9,124.9 378.4,123.5 381.0,122.0 383.6,120.6 386.1,119.1 388.7,117.6 391.2,116.2 393.8,114.7 396.4,113.3 398.9,111.8 401.5,110.4 404.1,108.9 406.6,107.5 409.2,106.0 411.8,104.5 414.3,103.1 416.9,101.7 419.5,100.2 422.0,98.8 424.6,97.5 427.2,96.1 429.7,94.7 432.3,93.3 434.9,91.9 437.4,90.5 440.0,89.1 442.6,87.7 445.1,86.4 447.7,85.0 450.3,83.6 452.8,82.2 455.4,80.8 455.4,93.4 452.8,94.6 450.3,95.7 447.7,96.8 445.1,98.0 442.6,99.1 440.0,100.3 437.4,101.4 434.9,102.5 432.3,103.7 429.7,104.8 427.2,106.0 424.6,107.1 422.0,108.2 419.5,109.4 416.9,110.5 414.3,111.6 411.8,112.7 409.2,113.7 406.6,114.8 404.1,115.9 401.5,116.9 398.9,118.0 396.4,119.1 393.8,120.2 391.2,121.2 388.7,122.3 386.1,123.4 383.6,124.4 381.0,125.5 378.4,126.6 375.9,127.7 373.3,128.9 370.7,130.0 368.2,131.2 365.6,132.3 363.0,133.5 360.5,134.7 357.9,135.9 355.3,136.9 352.8,137.8 350.2,138.6 347.6,139.5 345.1,140.2 342.5,140.6 339.9,140.8 337.4,140.8 334.8,140.8 332.2,140.8 329.7,140.8 327.1,140.8" fill="#ffdc70" fill-opacity="0.45"/>
<polyline points="327.1,140.8 329.7,140.8 332.2,140.7 334.8,140.7 337.4,140.6 339.9,140.5 342.5,140.2 345.1,139.6 347.6,138.8 350.2,137.8 352.8,136.9 355.3,135.8 357.9,134.6 360.5,133.2 363.0,131.8 365.6,130.4 368.2,129.1 370.7,127.7 373.3,126.3 375.9,124.9 378.4,123.5 381.0,122.0 383.6,120.6 386.1,119.1 388.7,117.6 391.2,116.2 393.8,114.7 396.4,113.3 398.9,111.8 401.5,110.4 404.1,108.9 406.6,107.5 409.2,106.0 411.8,104.5 414.3,103.1 416.9,101.7 419.5,100.2 422.0,98.8 424.6,97.5 427.2,96.1 429.7,94.7 432.3,93.3 434.9,91.9 437.4,90.5 440.0,89.1 442.6,87.7 445.1,86.4 447.7,85.0 450.3,83.6 452.8,82.2 455.4,80.8" fill="none" stroke="#f0b040" stroke-width="0.75" stroke-opacity="0.9"/>
<polyline points="455.4,93.4 452.8,94.6 450.3,95.7 447.7,96.8 445.1,98.0 442.6,99.1 440.0,100.3 437.4,101.4 434.9,102.5 432.3,103.7 429.7,104.8 427.2,106.0 424.6,107.1 422.0,108.2 419.5,109.4 416.9,110.5 414.3,111.6 411.8,112.7 409.2,113.7 406.6,114.8 404.1,115.9 401.5,116.9 398.9,118.0 396.4,119.1 393.8,120.2 391.2,121.2 388.7,122.3 386.1,123.4 383.6,124.4 381.0,125.5 378.4,126.6 375.9,127.7 373.3,128.9 370.7,130.0 368.2,131.2 365.6,132.3 363.0,133.5 360.5,134.7 357.9,135.9 355.3,136.9 352.8,137.8 350.2,138.6 347.6,139.5 345.1,140.2 342.5,140.6 339.9,140.8 337.4,140.8 334.8,140.8 332.2,140.8 329.7,140.8 327.1,140.8" fill="none" stroke="#f0b040" stroke-width="0.75" stroke-opacity="0.9"/>
<polyline points="327.1,140.8 329.7,140.8 332.2,140.8 334.8,140.8 337.4,140.7 339.9,140.7 342.5,140.4 345.1,139.9 347.6,139.1 350.2,138.2 352.8,137.4 355.3,136.4 357.9,135.2 360.5,133.9 363.0,132.6 365.6,131.4 368.2,130.1 370.7,128.9 373.3,127.6 375.9,126.3 378.4,125.0 381.0,123.8 383.6,122.5 386.1,121.2 388.7,120.0 391.2,118.7 393.8,117.5 396.4,116.2 398.9,114.9 401.5,113.7 404.1,112.4 406.6,111.1 409.2,109.9 411.8,108.6 414.3,107.3 416.9,106.1 419.5,104.8 422.0,103.5 424.6,102.3 427.2,101.0 429.7,99.8 432.3,98.5 434.9,97.2 437.4,96.0 440.0,94.7 442.6,93.4 445.1,92.2 447.7,90.9 450.3,89.6 452.8,88.4 455.4,87.1" fill="none" stroke="#f7bd45" stroke-width="2.6" stroke-linejoin="round"/>
<polygon points="327.1,140.8 329.7,140.8 332.2,140.7 334.8,140.7 337.4,140.6 339.9,140.5 342.5,140.2 345.1,139.6 347.6,138.8 350.2,137.8 352.8,136.9 355.3,135.9 357.9,134.7 360.5,133.4 363.0,132.0 365.6,130.7 368.2,129.4 370.7,128.2 373.3,126.9 375.9,125.5 378.4,124.2 381.0,123.0 383.6,121.7 386.1,120.4 388.7,119.1 391.2,117.8 393.8,116.5 396.4,115.1 398.9,113.8 401.5,112.5 404.1,111.1 406.6,109.8 409.2,108.5 411.8,107.1 414.3,105.8 416.9,104.5 419.5,103.2 422.0,101.9 424.6,100.6 427.2,99.3 429.7,98.0 432.3,96.7 434.9,95.5 437.4,94.2 440.0,93.0 442.6,91.7 445.1,90.4 447.7,89.1 450.3,87.8 452.8,86.5 455.4,85.2 455.4,94.7 452.8,95.7 450.3,96.8 447.7,97.8 445.1,98.9 442.6,99.9 440.0,101.0 437.4,102.0 434.9,103.1 432.3,104.2 429.7,105.3 427.2,106.4 424.6,107.5 422.0,108.6 419.5,109.7 416.9,110.8 414.3,111.9 411.8,113.0 409.2,114.0 406.6,115.1 404.1,116.2 401.5,117.3 398.9,118.3 396.4,119.4 393.8,120.5 391.2,121.6 388.7,122.7 386.1,123.8 383.6,124.9 381.0,126.0 378.4,127.1 375.9,128.2 373.3,129.3 370.7,130.4 368.2,131.5 365.6,132.6 363.0,133.7 360.5,134.9 357.9,136.0 355.3,137.0 352.8,137.8 350.2,138.6 347.6,139.4 345.1,140.1 342.5,140.6 339.9,140.8 337.4,140.8 334.8,140.8 332.2,140.8 329.7,140.8 327.1,140.8" fill="#f07a78" fill-opacity="0.45"/>
<polyline points="327.1,140.8 329.7,140.8 332.2,140.7 334.8,140.7 337.4,140.6 339.9,140.5 342.5,140.2 345.1,139.6 347.6,138.8 350.2,137.8 352.8,136.9 355.3,135.9 357.9,134.7 360.5,133.4 363.0,132.0 365.6,130.7 368.2,129.4 370.7,128.2 373.3,126.9 375.9,125.5 378.4,124.2 381.0,123.0 383.6,121.7 386.1,120.4 388.7,119.1 391.2,117.8 393.8,116.5 396.4,115.1 398.9,113.8 401.5,112.5 404.1,111.1 406.6,109.8 409.2,108.5 411.8,107.1 414.3,105.8 416.9,104.5 419.5,103.2 422.0,101.9 424.6,100.6 427.2,99.3 429.7,98.0 432.3,96.7 434.9,95.5 437.4,94.2 440.0,93.0 442.6,91.7 445.1,90.4 447.7,89.1 450.3,87.8 452.8,86.5 455.4,85.2" fill="none" stroke="#b01010" stroke-width="0.75" stroke-opacity="0.9"/>
<polyline points="455.4,94.7 452.8,95.7 450.3,96.8 447.7,97.8 445.1,98.9 442.6,99.9 440.0,101.0 437.4,102.0 434.9,103.1 432.3,104.2 429.7,105.3 427.2,106.4 424.6,107.5 422.0,108.6 419.5,109.7 416.9,110.8 414.3,111.9 411.8,113.0 409.2,114.0 406.6,115.1 404.1,116.2 401.5,117.3 398.9,118.3 396.4,119.4 393.8,120.5 391.2,121.6 388.7,122.7 386.1,123.8 383.6,124.9 381.0,126.0 378.4,127.1 375.9,128.2 373.3,129.3 370.7,130.4 368.2,131.5 365.6,132.6 363.0,133.7 360.5,134.9 357.9,136.0 355.3,137.0 352.8,137.8 350.2,138.6 347.6,139.4 345.1,140.1 342.5,140.6 339.9,140.8 337.4,140.8 334.8,140.8 332.2,140.8 329.7,140.8 327.1,140.8" fill="none" stroke="#b01010" stroke-width="0.75" stroke-opacity="0.9"/>
<polyline points="327.1,140.8 329.7,140.8 332.2,140.8 334.8,140.8 337.4,140.7 339.9,140.7 342.5,140.4 345.1,139.9 347.6,139.1 350.2,138.2 352.8,137.4 355.3,136.4 357.9,135.3 360.5,134.1 363.0,132.9 365.6,131.7 368.2,130.5 370.7,129.3 373.3,128.1 375.9,126.9 378.4,125.7 381.0,124.5 383.6,123.3 386.1,122.1 388.7,120.9 391.2,119.7 393.8,118.5 396.4,117.3 398.9,116.1 401.5,114.9 404.1,113.7 406.6,112.5 409.2,111.3 411.8,110.1 414.3,108.9 416.9,107.7 419.5,106.5 422.0,105.2 424.6,104.0 427.2,102.8 429.7,101.7 432.3,100.5 434.9,99.3 437.4,98.1 440.0,97.0 442.6,95.8 445.1,94.6 447.7,93.5 450.3,92.3 452.8,91.1 455.4,90.0" fill="none" stroke="#c81818" stroke-width="2.6" stroke-linejoin="round"/>
<polygon points="327.1,140.8 329.7,140.8 332.2,140.8 334.8,140.8 337.4,140.8 339.9,140.7 342.5,140.6 345.1,140.2 347.6,139.8 350.2,139.2 352.8,138.7 355.3,138.2 357.9,137.6 360.5,137.0 363.0,136.4 365.6,135.8 368.2,135.1 370.7,134.4 373.3,133.7 375.9,133.0 378.4,132.3 381.0,131.6 383.6,130.9 386.1,130.2 388.7,129.5 391.2,128.8 393.8,128.1 396.4,127.3 398.9,126.6 401.5,125.8 404.1,125.0 406.6,124.3 409.2,123.5 411.8,122.7 414.3,122.0 416.9,121.2 419.5,120.5 422.0,119.8 424.6,119.1 427.2,118.5 429.7,117.8 432.3,117.1 434.9,116.4 437.4,115.6 440.0,115.0 442.6,114.3 445.1,113.7 447.7,113.1 450.3,112.5 452.8,111.9 455.4,111.3 455.4,121.7 452.8,122.1 450.3,122.5 447.7,122.9 445.1,123.4 442.6,123.8 440.0,124.2 437.4,124.6 434.9,125.1 432.3,125.5 429.7,126.0 427.2,126.4 424.6,126.9 422.0,127.3 419.5,127.7 416.9,128.2 414.3,128.7 411.8,129.2 409.2,129.7 406.6,130.2 404.1,130.7 401.5,131.2 398.9,131.7 396.4,132.2 393.8,132.7 391.2,133.2 388.7,133.7 386.1,134.1 383.6,134.6 381.0,135.0 378.4,135.5 375.9,135.9 373.3,136.4 370.7,136.8 368.2,137.2 365.6,137.7 363.0,138.1 360.5,138.5 357.9,138.9 355.3,139.3 352.8,139.7 350.2,140.0 347.6,140.4 345.1,140.7 342.5,141.0 339.9,141.1 337.4,141.0 334.8,141.0 332.2,140.9 329.7,140.9 327.1,140.8" fill="#98f070" fill-opacity="0.45"/>
<polyline points="327.1,140.8 329.7,140.8 332.2,140.8 334.8,140.8 337.4,140.8 339.9,140.7 342.5,140.6 345.1,140.2 347.6,139.8 350.2,139.2 352.8,138.7 355.3,138.2 357.9,137.6 360.5,137.0 363.0,136.4 365.6,135.8 368.2,135.1 370.7,134.4 373.3,133.7 375.9,133.0 378.4,132.3 381.0,131.6 383.6,130.9 386.1,130.2 388.7,129.5 391.2,128.8 393.8,128.1 396.4,127.3 398.9,126.6 401.5,125.8 404.1,125.0 406.6,124.3 409.2,123.5 411.8,122.7 414.3,122.0 416.9,121.2 419.5,120.5 422.0,119.8 424.6,119.1 427.2,118.5 429.7,117.8 432.3,117.1 434.9,116.4 437.4,115.6 440.0,115.0 442.6,114.3 445.1,113.7 447.7,113.1 450.3,112.5 452.8,111.9 455.4,111.3" fill="none" stroke="#60d040" stroke-width="0.75" stroke-opacity="0.9"/>
<polyline points="455.4,121.7 452.8,122.1 450.3,122.5 447.7,122.9 445.1,123.4 442.6,123.8 440.0,124.2 437.4,124.6 434.9,125.1 432.3,125.5 429.7,126.0 427.2,126.4 424.6,126.9 422.0,127.3 419.5,127.7 416.9,128.2 414.3,128.7 411.8,129.2 409.2,129.7 406.6,130.2 404.1,130.7 401.5,131.2 398.9,131.7 396.4,132.2 393.8,132.7 391.2,133.2 388.7,133.7 386.1,134.1 383.6,134.6 381.0,135.0 378.4,135.5 375.9,135.9 373.3,136.4 370.7,136.8 368.2,137.2 365.6,137.7 363.0,138.1 360.5,138.5 357.9,138.9 355.3,139.3 352.8,139.7 350.2,140.0 347.6,140.4 345.1,140.7 342.5,141.0 339.9,141.1 337.4,141.0 334.8,141.0 332.2,140.9 329.7,140.9 327.1,140.8" fill="none" stroke="#60d040" stroke-width="0.75" stroke-opacity="0.9"/>
<polyline points="327.1,140.8 329.7,140.9 332.2,140.9 334.8,140.9 337.4,140.9 339.9,140.9 342.5,140.8 345.1,140.5 347.6,140.1 350.2,139.6 352.8,139.2 355.3,138.8 357.9,138.3 360.5,137.8 363.0,137.3 365.6,136.7 368.2,136.2 370.7,135.6 373.3,135.0 375.9,134.5 378.4,133.9 381.0,133.3 383.6,132.7 386.1,132.2 388.7,131.6 391.2,131.0 393.8,130.4 396.4,129.8 398.9,129.1 401.5,128.5 404.1,127.9 406.6,127.2 409.2,126.6 411.8,126.0 414.3,125.3 416.9,124.7 419.5,124.1 422.0,123.6 424.6,123.0 427.2,122.4 429.7,121.9 432.3,121.3 434.9,120.7 437.4,120.1 440.0,119.6 442.6,119.0 445.1,118.5 447.7,118.0 450.3,117.5 452.8,117.0 455.4,116.5" fill="none" stroke="#84ea50" stroke-width="2.6" stroke-linejoin="round"/>
<polygon points="327.1,140.8 329.7,140.8 332.2,140.8 334.8,140.8 337.4,140.8 339.9,140.8 342.5,140.7 345.1,140.6 347.6,140.3 350.2,140.1 352.8,139.8 355.3,139.6 357.9,139.2 360.5,138.9 363.0,138.5 365.6,138.2 368.2,137.8 370.7,137.4 373.3,136.9 375.9,136.5 378.4,136.1 381.0,135.7 383.6,135.3 386.1,134.9 388.7,134.5 391.2,134.0 393.8,133.6 396.4,133.2 398.9,132.8 401.5,132.4 404.1,132.0 406.6,131.6 409.2,131.2 411.8,130.8 414.3,130.3 416.9,129.9 419.5,129.5 422.0,129.1 424.6,128.7 427.2,128.3 429.7,127.9 432.3,127.5 434.9,127.1 437.4,126.6 440.0,126.2 442.6,125.8 445.1,125.4 447.7,125.1 450.3,124.7 452.8,124.3 455.4,123.9 455.4,132.5 452.8,132.7 450.3,132.8 447.7,133.0 445.1,133.2 442.6,133.4 440.0,133.6 437.4,133.7 434.9,133.9 432.3,134.0 429.7,134.2 427.2,134.4 424.6,134.6 422.0,134.8 419.5,135.1 416.9,135.3 414.3,135.5 411.8,135.7 409.2,136.0 406.6,136.2 404.1,136.4 401.5,136.6 398.9,136.9 396.4,137.1 393.8,137.3 391.2,137.5 388.7,137.7 386.1,138.0 383.6,138.2 381.0,138.4 378.4,138.6 375.9,138.9 373.3,139.1 370.7,139.3 368.2,139.5 365.6,139.7 363.0,139.9 360.5,140.0 357.9,140.2 355.3,140.3 352.8,140.5 350.2,140.6 347.6,140.8 345.1,141.0 342.5,141.1 339.9,141.1 337.4,141.1 334.8,141.0 332.2,141.0 329.7,140.9 327.1,140.8" fill="#7070f0" fill-opacity="0.45"/>
<polyline points="327.1,140.8 329.7,140.8 332.2,140.8 334.8,140.8 337.4,140.8 339.9,140.8 342.5,140.7 345.1,140.6 347.6,140.3 350.2,140.1 352.8,139.8 355.3,139.6 357.9,139.2 360.5,138.9 363.0,138.5 365.6,138.2 368.2,137.8 370.7,137.4 373.3,136.9 375.9,136.5 378.4,136.1 381.0,135.7 383.6,135.3 386.1,134.9 388.7,134.5 391.2,134.0 393.8,133.6 396.4,133.2 398.9,132.8 401.5,132.4 404.1,132.0 406.6,131.6 409.2,131.2 411.8,130.8 414.3,130.3 416.9,129.9 419.5,129.5 422.0,129.1 424.6,128.7 427.2,128.3 429.7,127.9 432.3,127.5 434.9,127.1 437.4,126.6 440.0,126.2 442.6,125.8 445.1,125.4 447.7,125.1 450.3,124.7 452.8,124.3 455.4,123.9" fill="none" stroke="#2020b0" stroke-width="0.75" stroke-opacity="0.9"/>
<polyline points="455.4,132.5 452.8,132.7 450.3,132.8 447.7,133.0 445.1,133.2 442.6,133.4 440.0,133.6 437.4,133.7 434.9,133.9 432.3,134.0 429.7,134.2 427.2,134.4 424.6,134.6 422.0,134.8 419.5,135.1 416.9,135.3 414.3,135.5 411.8,135.7 409.2,136.0 406.6,136.2 404.1,136.4 401.5,136.6 398.9,136.9 396.4,137.1 393.8,137.3 391.2,137.5 388.7,137.7 386.1,138.0 383.6,138.2 381.0,138.4 378.4,138.6 375.9,138.9 373.3,139.1 370.7,139.3 368.2,139.5 365.6,139.7 363.0,139.9 360.5,140.0 357.9,140.2 355.3,140.3 352.8,140.5 350.2,140.6 347.6,140.8 345.1,141.0 342.5,141.1 339.9,141.1 337.4,141.1 334.8,141.0 332.2,141.0 329.7,140.9 327.1,140.8" fill="none" stroke="#2020b0" stroke-width="0.75" stroke-opacity="0.9"/>
<polyline points="327.1,140.8 329.7,140.9 332.2,140.9 334.8,140.9 337.4,141.0 339.9,141.0 342.5,140.9 345.1,140.8 347.6,140.6 350.2,140.4 352.8,140.1 355.3,139.9 357.9,139.7 360.5,139.5 363.0,139.2 365.6,138.9 368.2,138.7 370.7,138.3 373.3,138.0 375.9,137.7 378.4,137.4 381.0,137.0 383.6,136.7 386.1,136.4 388.7,136.1 391.2,135.8 393.8,135.5 396.4,135.1 398.9,134.8 401.5,134.5 404.1,134.2 406.6,133.9 409.2,133.6 411.8,133.3 414.3,132.9 416.9,132.6 419.5,132.3 422.0,132.0 424.6,131.7 427.2,131.3 429.7,131.0 432.3,130.7 434.9,130.5 437.4,130.2 440.0,129.9 442.6,129.6 445.1,129.3 447.7,129.0 450.3,128.8 452.8,128.5 455.4,128.2" fill="none" stroke="#1616b8" stroke-width="2.6" stroke-linejoin="round"/>
</g>
<clipPath id="cb2"><rect x="327.1" y="152.3" width="128.30" height="126.30"/></clipPath>
<g clip-path="url(#cb2)">
<polygon points="327.1,278.6 329.7,278.0 332.2,277.4 334.8,276.8 337.4,276.2 339.9,275.6 342.5,274.9 345.1,274.1 347.6,273.3 350.2,272.6 352.8,271.9 355.3,271.2 357.9,270.5 360.5,269.8 363.0,269.2 365.6,268.5 368.2,267.8 370.7,267.0 373.3,266.2 375.9,265.5 378.4,264.8 381.0,264.1 383.6,263.4 386.1,262.7 388.7,262.1 391.2,261.4 393.8,260.7 396.4,260.0 398.9,259.4 401.5,258.7 404.1,258.0 406.6,257.4 409.2,256.7 411.8,256.0 414.3,255.3 416.9,254.7 419.5,254.0 422.0,253.3 424.6,252.6 427.2,252.0 429.7,251.3 432.3,250.6 434.9,249.9 437.4,249.3 440.0,248.6 442.6,247.9 445.1,247.2 447.7,246.6 450.3,245.9 452.8,245.2 455.4,244.5 455.4,249.9 452.8,250.3 450.3,250.7 447.7,251.1 445.1,251.5 442.6,252.0 440.0,252.4 437.4,253.0 434.9,253.5 432.3,254.1 429.7,254.7 427.2,255.2 424.6,255.7 422.0,256.3 419.5,256.8 416.9,257.4 414.3,257.9 411.8,258.4 409.2,259.0 406.6,259.5 404.1,260.0 401.5,260.6 398.9,261.1 396.4,261.6 393.8,262.2 391.2,262.7 388.7,263.4 386.1,264.1 383.6,264.8 381.0,265.5 378.4,266.1 375.9,266.7 373.3,267.3 370.7,267.9 368.2,268.5 365.6,269.2 363.0,269.8 360.5,270.5 357.9,271.2 355.3,271.9 352.8,272.5 350.2,273.2 347.6,273.8 345.1,274.4 342.5,275.0 339.9,275.6 337.4,276.2 334.8,276.8 332.2,277.4 329.7,278.0 327.1,278.6" fill="#777777" fill-opacity="0.45"/>
<polyline points="327.1,278.6 329.7,278.0 332.2,277.4 334.8,276.8 337.4,276.2 339.9,275.6 342.5,274.9 345.1,274.1 347.6,273.3 350.2,272.6 352.8,271.9 355.3,271.2 357.9,270.5 360.5,269.8 363.0,269.2 365.6,268.5 368.2,267.8 370.7,267.0 373.3,266.2 375.9,265.5 378.4,264.8 381.0,264.1 383.6,263.4 386.1,262.7 388.7,262.1 391.2,261.4 393.8,260.7 396.4,260.0 398.9,259.4 401.5,258.7 404.1,258.0 406.6,257.4 409.2,256.7 411.8,256.0 414.3,255.3 416.9,254.7 419.5,254.0 422.0,253.3 424.6,252.6 427.2,252.0 429.7,251.3 432.3,250.6 434.9,249.9 437.4,249.3 440.0,248.6 442.6,247.9 445.1,247.2 447.7,246.6 450.3,245.9 452.8,245.2 455.4,244.5" fill="none" stroke="#000000" stroke-width="0.75" stroke-opacity="0.9"/>
<polyline points="455.4,249.9 452.8,250.3 450.3,250.7 447.7,251.1 445.1,251.5 442.6,252.0 440.0,252.4 437.4,253.0 434.9,253.5 432.3,254.1 429.7,254.7 427.2,255.2 424.6,255.7 422.0,256.3 419.5,256.8 416.9,257.4 414.3,257.9 411.8,258.4 409.2,259.0 406.6,259.5 404.1,260.0 401.5,260.6 398.9,261.1 396.4,261.6 393.8,262.2 391.2,262.7 388.7,263.4 386.1,264.1 383.6,264.8 381.0,265.5 378.4,266.1 375.9,266.7 373.3,267.3 370.7,267.9 368.2,268.5 365.6,269.2 363.0,269.8 360.5,270.5 357.9,271.2 355.3,271.9 352.8,272.5 350.2,273.2 347.6,273.8 345.1,274.4 342.5,275.0 339.9,275.6 337.4,276.2 334.8,276.8 332.2,277.4 329.7,278.0 327.1,278.6" fill="none" stroke="#000000" stroke-width="0.75" stroke-opacity="0.9"/>
<polyline points="327.1,278.6 329.7,278.0 332.2,277.4 334.8,276.8 337.4,276.2 339.9,275.6 342.5,274.9 345.1,274.2 347.6,273.6 350.2,272.9 352.8,272.2 355.3,271.5 357.9,270.8 360.5,270.2 363.0,269.5 365.6,268.8 368.2,268.1 370.7,267.5 373.3,266.8 375.9,266.1 378.4,265.4 381.0,264.8 383.6,264.1 386.1,263.4 388.7,262.7 391.2,262.1 393.8,261.4 396.4,260.8 398.9,260.2 401.5,259.6 404.1,259.0 406.6,258.4 409.2,257.8 411.8,257.2 414.3,256.6 416.9,256.0 419.5,255.4 422.0,254.8 424.6,254.2 427.2,253.6 429.7,253.0 432.3,252.4 434.9,251.7 437.4,251.1 440.0,250.5 442.6,249.9 445.1,249.4 447.7,248.8 450.3,248.3 452.8,247.8 455.4,247.2" fill="none" stroke="#000000" stroke-width="2.6" stroke-linejoin="round"/>
<polygon points="327.1,278.6 329.7,278.0 332.2,277.4 334.8,276.8 337.4,276.2 339.9,275.6 342.5,274.9 345.1,274.1 347.6,273.3 350.2,272.6 352.8,271.9 355.3,271.2 357.9,270.5 360.5,269.9 363.0,269.2 365.6,268.5 368.2,267.7 370.7,266.9 373.3,266.0 375.9,265.2 378.4,264.4 381.0,263.7 383.6,263.0 386.1,262.4 388.7,261.7 391.2,261.1 393.8,260.4 396.4,259.8 398.9,259.2 401.5,258.6 404.1,258.0 406.6,257.5 409.2,256.9 411.8,256.4 414.3,255.8 416.9,255.3 419.5,254.8 422.0,254.4 424.6,253.9 427.2,253.4 429.7,253.0 432.3,252.5 434.9,252.0 437.4,251.5 440.0,251.1 442.6,250.6 445.1,250.2 447.7,249.8 450.3,249.4 452.8,249.0 455.4,248.6 455.4,253.3 452.8,253.6 450.3,253.8 447.7,254.1 445.1,254.4 442.6,254.7 440.0,255.0 437.4,255.3 434.9,255.6 432.3,256.0 429.7,256.3 427.2,256.7 424.6,257.0 422.0,257.3 419.5,257.7 416.9,258.0 414.3,258.4 411.8,258.8 409.2,259.2 406.6,259.6 404.1,260.0 401.5,260.5 398.9,260.9 396.4,261.4 393.8,261.9 391.2,262.4 388.7,263.0 386.1,263.7 383.6,264.4 381.0,265.1 378.4,265.8 375.9,266.5 373.3,267.1 370.7,267.8 368.2,268.5 365.6,269.2 363.0,269.8 360.5,270.5 357.9,271.2 355.3,271.9 352.8,272.5 350.2,273.2 347.6,273.8 345.1,274.4 342.5,275.0 339.9,275.6 337.4,276.2 334.8,276.8 332.2,277.4 329.7,278.0 327.1,278.6" fill="#f07a78" fill-opacity="0.45"/>
<polyline points="327.1,278.6 329.7,278.0 332.2,277.4 334.8,276.8 337.4,276.2 339.9,275.6 342.5,274.9 345.1,274.1 347.6,273.3 350.2,272.6 352.8,271.9 355.3,271.2 357.9,270.5 360.5,269.9 363.0,269.2 365.6,268.5 368.2,267.7 370.7,266.9 373.3,266.0 375.9,265.2 378.4,264.4 381.0,263.7 383.6,263.0 386.1,262.4 388.7,261.7 391.2,261.1 393.8,260.4 396.4,259.8 398.9,259.2 401.5,258.6 404.1,258.0 406.6,257.5 409.2,256.9 411.8,256.4 414.3,255.8 416.9,255.3 419.5,254.8 422.0,254.4 424.6,253.9 427.2,253.4 429.7,253.0 432.3,252.5 434.9,252.0 437.4,251.5 440.0,251.1 442.6,250.6 445.1,250.2 447.7,249.8 450.3,249.4 452.8,249.0 455.4,248.6" fill="none" stroke="#b01010" stroke-width="0.75" stroke-opacity="0.9"/>
<polyline points="455.4,253.3 452.8,253.6 450.3,253.8 447.7,254.1 445.1,254.4 442.6,254.7 440.0,255.0 437.4,255.3 434.9,255.6 432.3,256.0 429.7,256.3 427.2,256.7 424.6,257.0 422.0,257.3 419.5,257.7 416.9,258.0 414.3,258.4 411.8,258.8 409.2,259.2 406.6,259.6 404.1,260.0 401.5,260.5 398.9,260.9 396.4,261.4 393.8,261.9 391.2,262.4 388.7,263.0 386.1,263.7 383.6,264.4 381.0,265.1 378.4,265.8 375.9,266.5 373.3,267.1 370.7,267.8 368.2,268.5 365.6,269.2 363.0,269.8 360.5,270.5 357.9,271.2 355.3,271.9 352.8,272.5 350.2,273.2 347.6,273.8 345.1,274.4 342.5,275.0 339.9,275.6 337.4,276.2 334.8,276.8 332.2,277.4 329.7,278.0 327.1,278.6" fill="none" stroke="#b01010" stroke-width="0.75" stroke-opacity="0.9"/>
<polyline points="327.1,278.6 329.7,278.0 332.2,277.4 334.8,276.8 337.4,276.2 339.9,275.6 342.5,274.9 345.1,274.2 347.6,273.6 350.2,272.9 352.8,272.2 355.3,271.5 357.9,270.9 360.5,270.2 363.0,269.5 365.6,268.8 368.2,268.1 370.7,267.3 373.3,266.6 375.9,265.8 378.4,265.1 381.0,264.4 383.6,263.7 386.1,263.0 388.7,262.4 391.2,261.7 393.8,261.2 396.4,260.6 398.9,260.1 401.5,259.5 404.1,259.0 406.6,258.5 409.2,258.1 411.8,257.6 414.3,257.1 416.9,256.7 419.5,256.3 422.0,255.8 424.6,255.4 427.2,255.1 429.7,254.7 432.3,254.2 434.9,253.8 437.4,253.4 440.0,253.0 442.6,252.6 445.1,252.3 447.7,251.9 450.3,251.6 452.8,251.3 455.4,250.9" fill="none" stroke="#c81818" stroke-width="2.6" stroke-linejoin="round"/>
<polygon points="327.1,278.6 329.7,278.0 332.2,277.4 334.8,276.8 337.4,276.2 339.9,275.6 342.5,274.9 345.1,274.2 347.6,273.5 350.2,272.8 352.8,272.2 355.3,271.6 357.9,271.0 360.5,270.4 363.0,269.9 365.6,269.3 368.2,268.8 370.7,268.2 373.3,267.6 375.9,267.0 378.4,266.5 381.0,265.8 383.6,265.2 386.1,264.6 388.7,264.0 391.2,263.4 393.8,262.9 396.4,262.5 398.9,262.0 401.5,261.6 404.1,261.2 406.6,260.8 409.2,260.5 411.8,260.1 414.3,259.8 416.9,259.4 419.5,259.0 422.0,258.5 424.6,258.1 427.2,257.7 429.7,257.4 432.3,257.0 434.9,256.7 437.4,256.4 440.0,256.1 442.6,255.8 445.1,255.6 447.7,255.3 450.3,255.1 452.8,254.9 455.4,254.7 455.4,258.7 452.8,258.9 450.3,259.0 447.7,259.2 445.1,259.4 442.6,259.5 440.0,259.8 437.4,260.0 434.9,260.2 432.3,260.5 429.7,260.7 427.2,261.0 424.6,261.2 422.0,261.5 419.5,261.8 416.9,262.1 414.3,262.4 411.8,262.7 409.2,263.0 406.6,263.3 404.1,263.6 401.5,263.9 398.9,264.3 396.4,264.7 393.8,265.0 391.2,265.4 388.7,265.9 386.1,266.3 383.6,266.8 381.0,267.3 378.4,267.8 375.9,268.3 373.3,268.8 370.7,269.3 368.2,269.8 365.6,270.3 363.0,270.8 360.5,271.3 357.9,271.8 355.3,272.3 352.8,272.9 350.2,273.4 347.6,273.9 345.1,274.5 342.5,275.0 339.9,275.6 337.4,276.1 334.8,276.8 332.2,277.4 329.7,278.0 327.1,278.6" fill="#98f070" fill-opacity="0.45"/>
<polyline points="327.1,278.6 329.7,278.0 332.2,277.4 334.8,276.8 337.4,276.2 339.9,275.6 342.5,274.9 345.1,274.2 347.6,273.5 350.2,272.8 352.8,272.2 355.3,271.6 357.9,271.0 360.5,270.4 363.0,269.9 365.6,269.3 368.2,268.8 370.7,268.2 373.3,267.6 375.9,267.0 378.4,266.5 381.0,265.8 383.6,265.2 386.1,264.6 388.7,264.0 391.2,263.4 393.8,262.9 396.4,262.5 398.9,262.0 401.5,261.6 404.1,261.2 406.6,260.8 409.2,260.5 411.8,260.1 414.3,259.8 416.9,259.4 419.5,259.0 422.0,258.5 424.6,258.1 427.2,257.7 429.7,257.4 432.3,257.0 434.9,256.7 437.4,256.4 440.0,256.1 442.6,255.8 445.1,255.6 447.7,255.3 450.3,255.1 452.8,254.9 455.4,254.7" fill="none" stroke="#60d040" stroke-width="0.75" stroke-opacity="0.9"/>
<polyline points="455.4,258.7 452.8,258.9 450.3,259.0 447.7,259.2 445.1,259.4 442.6,259.5 440.0,259.8 437.4,260.0 434.9,260.2 432.3,260.5 429.7,260.7 427.2,261.0 424.6,261.2 422.0,261.5 419.5,261.8 416.9,262.1 414.3,262.4 411.8,262.7 409.2,263.0 406.6,263.3 404.1,263.6 401.5,263.9 398.9,264.3 396.4,264.7 393.8,265.0 391.2,265.4 388.7,265.9 386.1,266.3 383.6,266.8 381.0,267.3 378.4,267.8 375.9,268.3 373.3,268.8 370.7,269.3 368.2,269.8 365.6,270.3 363.0,270.8 360.5,271.3 357.9,271.8 355.3,272.3 352.8,272.9 350.2,273.4 347.6,273.9 345.1,274.5 342.5,275.0 339.9,275.6 337.4,276.1 334.8,276.8 332.2,277.4 329.7,278.0 327.1,278.6" fill="none" stroke="#60d040" stroke-width="0.75" stroke-opacity="0.9"/>
<polyline points="327.1,278.6 329.7,278.0 332.2,277.4 334.8,276.8 337.4,276.2 339.9,275.6 342.5,275.0 345.1,274.3 347.6,273.7 350.2,273.1 352.8,272.5 355.3,272.0 357.9,271.4 360.5,270.9 363.0,270.4 365.6,269.8 368.2,269.3 370.7,268.8 373.3,268.2 375.9,267.7 378.4,267.1 381.0,266.6 383.6,266.0 386.1,265.5 388.7,264.9 391.2,264.4 393.8,264.0 396.4,263.6 398.9,263.2 401.5,262.8 404.1,262.4 406.6,262.1 409.2,261.7 411.8,261.4 414.3,261.1 416.9,260.7 419.5,260.4 422.0,260.0 424.6,259.7 427.2,259.3 429.7,259.0 432.3,258.7 434.9,258.5 437.4,258.2 440.0,257.9 442.6,257.7 445.1,257.5 447.7,257.3 450.3,257.1 452.8,256.9 455.4,256.7" fill="none" stroke="#84ea50" stroke-width="2.6" stroke-linejoin="round"/>
<polygon points="327.1,278.6 329.7,278.2 332.2,277.8 334.8,277.3 337.4,276.9 339.9,276.6 342.5,276.2 345.1,275.9 347.6,275.6 350.2,275.3 352.8,275.1 355.3,274.8 357.9,274.5 360.5,274.2 363.0,274.0 365.6,273.7 368.2,273.4 370.7,273.2 373.3,272.9 375.9,272.6 378.4,272.4 381.0,272.1 383.6,271.8 386.1,271.5 388.7,271.2 391.2,270.8 393.8,270.5 396.4,270.2 398.9,269.8 401.5,269.5 404.1,269.2 406.6,268.8 409.2,268.5 411.8,268.2 414.3,267.9 416.9,267.6 419.5,267.4 422.0,267.1 424.6,266.8 427.2,266.6 429.7,266.3 432.3,266.0 434.9,265.7 437.4,265.5 440.0,265.2 442.6,264.9 445.1,264.7 447.7,264.5 450.3,264.2 452.8,264.0 455.4,263.8 455.4,268.5 452.8,268.7 450.3,268.8 447.7,269.0 445.1,269.2 442.6,269.3 440.0,269.5 437.4,269.6 434.9,269.7 432.3,269.9 429.7,270.0 427.2,270.1 424.6,270.3 422.0,270.4 419.5,270.5 416.9,270.7 414.3,270.9 411.8,271.1 409.2,271.4 406.6,271.6 404.1,271.9 401.5,272.1 398.9,272.3 396.4,272.5 393.8,272.7 391.2,272.9 388.7,273.1 386.1,273.3 383.6,273.6 381.0,273.8 378.4,274.0 375.9,274.3 373.3,274.5 370.7,274.7 368.2,274.9 365.6,275.1 363.0,275.3 360.5,275.5 357.9,275.7 355.3,275.9 352.8,276.1 350.2,276.3 347.6,276.5 345.1,276.8 342.5,277.0 339.9,277.3 337.4,277.5 334.8,277.8 332.2,278.1 329.7,278.3 327.1,278.6" fill="#7070f0" fill-opacity="0.45"/>
<polyline points="327.1,278.6 329.7,278.2 332.2,277.8 334.8,277.3 337.4,276.9 339.9,276.6 342.5,276.2 345.1,275.9 347.6,275.6 350.2,275.3 352.8,275.1 355.3,274.8 357.9,274.5 360.5,274.2 363.0,274.0 365.6,273.7 368.2,273.4 370.7,273.2 373.3,272.9 375.9,272.6 378.4,272.4 381.0,272.1 383.6,271.8 386.1,271.5 388.7,271.2 391.2,270.8 393.8,270.5 396.4,270.2 398.9,269.8 401.5,269.5 404.1,269.2 406.6,268.8 409.2,268.5 411.8,268.2 414.3,267.9 416.9,267.6 419.5,267.4 422.0,267.1 424.6,266.8 427.2,266.6 429.7,266.3 432.3,266.0 434.9,265.7 437.4,265.5 440.0,265.2 442.6,264.9 445.1,264.7 447.7,264.5 450.3,264.2 452.8,264.0 455.4,263.8" fill="none" stroke="#2020b0" stroke-width="0.75" stroke-opacity="0.9"/>
<polyline points="455.4,268.5 452.8,268.7 450.3,268.8 447.7,269.0 445.1,269.2 442.6,269.3 440.0,269.5 437.4,269.6 434.9,269.7 432.3,269.9 429.7,270.0 427.2,270.1 424.6,270.3 422.0,270.4 419.5,270.5 416.9,270.7 414.3,270.9 411.8,271.1 409.2,271.4 406.6,271.6 404.1,271.9 401.5,272.1 398.9,272.3 396.4,272.5 393.8,272.7 391.2,272.9 388.7,273.1 386.1,273.3 383.6,273.6 381.0,273.8 378.4,274.0 375.9,274.3 373.3,274.5 370.7,274.7 368.2,274.9 365.6,275.1 363.0,275.3 360.5,275.5 357.9,275.7 355.3,275.9 352.8,276.1 350.2,276.3 347.6,276.5 345.1,276.8 342.5,277.0 339.9,277.3 337.4,277.5 334.8,277.8 332.2,278.1 329.7,278.3 327.1,278.6" fill="none" stroke="#2020b0" stroke-width="0.75" stroke-opacity="0.9"/>
<polyline points="327.1,278.6 329.7,278.3 332.2,277.9 334.8,277.6 337.4,277.2 339.9,276.9 342.5,276.6 345.1,276.3 347.6,276.1 350.2,275.8 352.8,275.6 355.3,275.3 357.9,275.1 360.5,274.8 363.0,274.6 365.6,274.4 368.2,274.2 370.7,273.9 373.3,273.7 375.9,273.4 378.4,273.2 381.0,272.9 383.6,272.7 386.1,272.4 388.7,272.1 391.2,271.9 393.8,271.6 396.4,271.3 398.9,271.0 401.5,270.8 404.1,270.5 406.6,270.2 409.2,269.9 411.8,269.7 414.3,269.4 416.9,269.2 419.5,268.9 422.0,268.7 424.6,268.5 427.2,268.3 429.7,268.1 432.3,267.9 434.9,267.7 437.4,267.5 440.0,267.3 442.6,267.1 445.1,266.9 447.7,266.7 450.3,266.5 452.8,266.3 455.4,266.1" fill="none" stroke="#1616b8" stroke-width="2.6" stroke-linejoin="round"/>
</g>
<line x1="327.10" y1="110.50" x2="331.60" y2="110.50" stroke="#4a4a4a" stroke-width="1.25" />
<line x1="455.40" y1="110.50" x2="450.90" y2="110.50" stroke="#4a4a4a" stroke-width="1.25" />
<line x1="327.10" y1="78.90" x2="331.60" y2="78.90" stroke="#4a4a4a" stroke-width="1.25" />
<line x1="455.40" y1="78.90" x2="450.90" y2="78.90" stroke="#4a4a4a" stroke-width="1.25" />
<line x1="327.10" y1="47.30" x2="331.60" y2="47.30" stroke="#4a4a4a" stroke-width="1.25" />
<line x1="455.40" y1="47.30" x2="450.90" y2="47.30" stroke="#4a4a4a" stroke-width="1.25" />
<line x1="391.25" y1="142.10" x2="391.25" y2="137.60" stroke="#4a4a4a" stroke-width="1.25" />
<line x1="391.25" y1="15.70" x2="391.25" y2="20.20" stroke="#4a4a4a" stroke-width="1.25" />
<rect x="327.10" y="15.70" width="128.30" height="126.40" fill="none" stroke="#4a4a4a" stroke-width="1.25"/>
<line x1="327.10" y1="244.87" x2="331.60" y2="244.87" stroke="#4a4a4a" stroke-width="1.25" />
<line x1="455.40" y1="244.87" x2="450.90" y2="244.87" stroke="#4a4a4a" stroke-width="1.25" />
<line x1="327.10" y1="211.14" x2="331.60" y2="211.14" stroke="#4a4a4a" stroke-width="1.25" />
<line x1="455.40" y1="211.14" x2="450.90" y2="211.14" stroke="#4a4a4a" stroke-width="1.25" />
<line x1="327.10" y1="177.41" x2="331.60" y2="177.41" stroke="#4a4a4a" stroke-width="1.25" />
<line x1="455.40" y1="177.41" x2="450.90" y2="177.41" stroke="#4a4a4a" stroke-width="1.25" />
<line x1="391.25" y1="278.60" x2="391.25" y2="274.10" stroke="#4a4a4a" stroke-width="1.25" />
<line x1="391.25" y1="152.30" x2="391.25" y2="156.80" stroke="#4a4a4a" stroke-width="1.25" />
<rect x="327.10" y="152.30" width="128.30" height="126.30" fill="none" stroke="#4a4a4a" stroke-width="1.25"/>
<text transform="translate(391.25,13.30) scale(1.0,1.05)" font-size="13.3" text-anchor="middle" font-weight="normal" fill="#101010" stroke="#101010" stroke-width="0.15" >Donor 3</text>
<text transform="translate(329.30,291.80) scale(1.0,1.04)" font-size="10.0" text-anchor="middle" font-weight="normal" fill="#1c1c1c" stroke="#1c1c1c" stroke-width="0.28" >0</text>
<text transform="translate(391.25,291.80) scale(1.0,1.04)" font-size="10.0" text-anchor="middle" font-weight="normal" fill="#1c1c1c" stroke="#1c1c1c" stroke-width="0.28" >250</text>
<text transform="translate(447.80,291.80) scale(1.0,1.04)" font-size="10.0" text-anchor="middle" font-weight="normal" fill="#1c1c1c" stroke="#1c1c1c" stroke-width="0.28" >500</text>
<text x="42.90" y="144.80" font-size="9.9" text-anchor="end" font-weight="normal" fill="#1c1c1c" stroke="#1c1c1c" stroke-width="0.28" >0</text>
<text x="42.90" y="113.20" font-size="9.9" text-anchor="end" font-weight="normal" fill="#1c1c1c" stroke="#1c1c1c" stroke-width="0.28" >1000</text>
<text x="42.90" y="81.60" font-size="9.9" text-anchor="end" font-weight="normal" fill="#1c1c1c" stroke="#1c1c1c" stroke-width="0.28" >2000</text>
<text x="42.90" y="50.00" font-size="9.9" text-anchor="end" font-weight="normal" fill="#1c1c1c" stroke="#1c1c1c" stroke-width="0.28" >3000</text>
<text x="42.90" y="18.40" font-size="9.9" text-anchor="end" font-weight="normal" fill="#1c1c1c" stroke="#1c1c1c" stroke-width="0.28" >4000</text>
<text x="42.90" y="281.30" font-size="9.9" text-anchor="end" font-weight="normal" fill="#1c1c1c" stroke="#1c1c1c" stroke-width="0.28" >0</text>
<text x="42.90" y="247.57" font-size="9.9" text-anchor="end" font-weight="normal" fill="#1c1c1c" stroke="#1c1c1c" stroke-width="0.28" >100</text>
<text x="42.90" y="213.84" font-size="9.9" text-anchor="end" font-weight="normal" fill="#1c1c1c" stroke="#1c1c1c" stroke-width="0.28" >200</text>
<text x="42.90" y="180.11" font-size="9.9" text-anchor="end" font-weight="normal" fill="#1c1c1c" stroke="#1c1c1c" stroke-width="0.28" >300</text>
<text transform="translate(13.70,78.50) rotate(-90) scale(1,1.1)" font-size="11" text-anchor="middle" fill="#1a1a1a" stroke="#1a1a1a" stroke-width="0.15">Fluorescence</text>
<text transform="translate(18.40,214.80) rotate(-90) scale(1,1.1)" font-size="11" text-anchor="middle" fill="#1a1a1a" stroke="#1a1a1a" stroke-width="0.15">Platelets</text>
<text x="251.70" y="306.00" font-size="11" text-anchor="middle" font-weight="normal" fill="#101010" stroke="#101010" stroke-width="0.15" >Time (s)</text>
<text x="461.00" y="81.40" font-size="11.1" text-anchor="start" font-weight="normal" fill="#101010" stroke="#101010" stroke-width="0.15" >Experiment</text>
<text x="460.60" y="217.60" font-size="11.1" text-anchor="start" font-weight="normal" fill="#101010" stroke="#101010" stroke-width="0.15" >Simulation</text>
<rect x="372" y="19" width="80" height="52" fill="#fff"/>
<text transform="translate(417.60,27.90) scale(1.0,1.15)" font-size="6.8" text-anchor="end" font-weight="normal" fill="#101010" stroke="#101010" stroke-width="0.08" >Control</text>
<line x1="422.00" y1="25.30" x2="446.00" y2="25.30" stroke="#000000" stroke-width="2.8" />
<text transform="translate(417.60,37.90) scale(1.0,1.15)" font-size="6.8" text-anchor="end" font-weight="normal" fill="#101010" stroke="#101010" stroke-width="0.08" >Aspirin</text>
<line x1="422.00" y1="35.30" x2="446.00" y2="35.30" stroke="#f7bd45" stroke-width="2.8" />
<text transform="translate(417.60,48.00) scale(1.0,1.15)" font-size="6.8" text-anchor="end" font-weight="normal" fill="#101010" stroke="#101010" stroke-width="0.08" >Indomethacin</text>
<line x1="422.00" y1="45.40" x2="446.00" y2="45.40" stroke="#c81818" stroke-width="2.8" />
<text transform="translate(417.60,58.00) scale(1.0,1.15)" font-size="6.8" text-anchor="end" font-weight="normal" fill="#101010" stroke="#101010" stroke-width="0.08" >MRS 2179</text>
<line x1="422.00" y1="55.40" x2="446.00" y2="55.40" stroke="#84ea50" stroke-width="2.8" />
<text transform="translate(417.60,68.20) scale(1.0,1.15)" font-size="6.8" text-anchor="end" font-weight="normal" fill="#101010" stroke="#101010" stroke-width="0.08" >Iloprost</text>
<line x1="422.00" y1="65.60" x2="446.00" y2="65.60" stroke="#1616b8" stroke-width="2.8" />
<text transform="translate(418.00,165.00) scale(1.0,1.15)" font-size="6.8" text-anchor="end" font-weight="normal" fill="#101010" stroke="#101010" stroke-width="0.08" >Control</text>
<line x1="423.00" y1="162.40" x2="446.00" y2="162.40" stroke="#000000" stroke-width="2.8" />
<text transform="translate(418.00,174.80) scale(1.0,1.15)" font-size="6.8" text-anchor="end" font-weight="normal" fill="#101010" stroke="#101010" stroke-width="0.08" >No TXA</text>
<line x1="423.00" y1="172.20" x2="446.00" y2="172.20" stroke="#c81818" stroke-width="2.8" />
<text transform="translate(418.00,184.60) scale(1.0,1.15)" font-size="6.8" text-anchor="end" font-weight="normal" fill="#101010" stroke="#101010" stroke-width="0.08" >No ADP</text>
<line x1="423.00" y1="182.00" x2="446.00" y2="182.00" stroke="#84ea50" stroke-width="2.8" />
<text transform="translate(418.00,195.00) scale(1.0,1.15)" font-size="6.8" text-anchor="end" font-weight="normal" fill="#101010" stroke="#101010" stroke-width="0.08" >Iloprost</text>
<line x1="423.00" y1="192.40" x2="446.00" y2="192.40" stroke="#1616b8" stroke-width="2.8" />
<rect x="65.00" y="359.47" width="8.55" height="99.83" fill="#7a7a7a" stroke="#222" stroke-width="0.9"/>
<rect x="73.55" y="404.92" width="8.55" height="54.38" fill="#fadd8c" stroke="#222" stroke-width="0.9"/>
<rect x="82.10" y="412.89" width="8.55" height="46.41" fill="#ed7d77" stroke="#222" stroke-width="0.9"/>
<rect x="90.65" y="429.55" width="8.55" height="29.75" fill="#a0ec84" stroke="#222" stroke-width="0.9"/>
<rect x="99.20" y="440.56" width="8.55" height="18.74" fill="#7b7bee" stroke="#222" stroke-width="0.9"/>
<path d="M69.28,342.88V376.06M64.57,342.88H73.98M64.57,376.06H73.98" stroke="#1a1a1a" stroke-width="1.2" fill="none"/>
<path d="M77.83,398.77V411.08M73.12,398.77H82.53M73.12,411.08H82.53" stroke="#1a1a1a" stroke-width="1.2" fill="none"/>
<path d="M75.53,391.87L80.12,396.47M75.53,396.47L80.12,391.87" stroke="#444" stroke-width="0.85" fill="none"/>
<rect x="76.73" y="393.07" width="2.2" height="2.2" fill="#1a1a1a"/>
<path d="M86.38,403.66V422.12M81.67,403.66H91.08M81.67,422.12H91.08" stroke="#1a1a1a" stroke-width="1.2" fill="none"/>
<path d="M84.08,396.76L88.67,401.36M84.08,401.36L88.67,396.76" stroke="#444" stroke-width="0.85" fill="none"/>
<rect x="85.28" y="397.96" width="2.2" height="2.2" fill="#1a1a1a"/>
<path d="M94.93,421.68V437.41M90.22,421.68H99.63M90.22,437.41H99.63" stroke="#1a1a1a" stroke-width="1.2" fill="none"/>
<path d="M92.63,414.78L97.23,419.38M92.63,419.38L97.23,414.78" stroke="#444" stroke-width="0.85" fill="none"/>
<rect x="93.83" y="415.98" width="2.2" height="2.2" fill="#1a1a1a"/>
<path d="M103.48,435.77V445.35M98.77,435.77H108.18M98.77,445.35H108.18" stroke="#1a1a1a" stroke-width="1.2" fill="none"/>
<path d="M101.18,428.87L105.78,433.47M101.18,433.47L105.78,428.87" stroke="#444" stroke-width="0.85" fill="none"/>
<rect x="102.38" y="430.07" width="2.2" height="2.2" fill="#1a1a1a"/>
<rect x="115.90" y="404.99" width="8.55" height="54.31" fill="#7a7a7a" stroke="#222" stroke-width="0.9"/>
<rect x="124.45" y="423.01" width="8.55" height="36.29" fill="#fadd8c" stroke="#222" stroke-width="0.9"/>
<rect x="133.00" y="423.94" width="8.55" height="35.36" fill="#ed7d77" stroke="#222" stroke-width="0.9"/>
<rect x="141.55" y="431.94" width="8.55" height="27.36" fill="#a0ec84" stroke="#222" stroke-width="0.9"/>
<rect x="150.10" y="441.86" width="8.55" height="17.44" fill="#7b7bee" stroke="#222" stroke-width="0.9"/>
<path d="M120.18,390.63V419.35M115.47,390.63H124.88M115.47,419.35H124.88" stroke="#1a1a1a" stroke-width="1.2" fill="none"/>
<path d="M128.72,417.20V428.83M124.02,417.20H133.43M124.02,428.83H133.43" stroke="#1a1a1a" stroke-width="1.2" fill="none"/>
<path d="M126.42,410.30L131.03,414.90M126.42,414.90L131.03,410.30" stroke="#444" stroke-width="0.85" fill="none"/>
<rect x="127.62" y="411.50" width="2.2" height="2.2" fill="#1a1a1a"/>
<path d="M137.28,418.81V429.07M132.57,418.81H141.98M132.57,429.07H141.98" stroke="#1a1a1a" stroke-width="1.2" fill="none"/>
<path d="M134.97,411.91L139.58,416.51M134.97,416.51L139.58,411.91" stroke="#444" stroke-width="0.85" fill="none"/>
<rect x="136.18" y="413.11" width="2.2" height="2.2" fill="#1a1a1a"/>
<path d="M145.83,427.49V436.39M141.12,427.49H150.53M141.12,436.39H150.53" stroke="#1a1a1a" stroke-width="1.2" fill="none"/>
<path d="M143.53,420.59L148.13,425.19M143.53,425.19L148.13,420.59" stroke="#444" stroke-width="0.85" fill="none"/>
<rect x="144.73" y="421.79" width="2.2" height="2.2" fill="#1a1a1a"/>
<path d="M154.38,438.44V445.28M149.67,438.44H159.08M149.67,445.28H159.08" stroke="#1a1a1a" stroke-width="1.2" fill="none"/>
<path d="M152.08,431.54L156.68,436.14M152.08,436.14L156.68,431.54" stroke="#444" stroke-width="0.85" fill="none"/>
<rect x="153.28" y="432.74" width="2.2" height="2.2" fill="#1a1a1a"/>
<rect x="167.00" y="404.00" width="8.55" height="55.30" fill="#7a7a7a" stroke="#222" stroke-width="0.9"/>
<rect x="175.55" y="400.99" width="8.55" height="58.31" fill="#fadd8c" stroke="#222" stroke-width="0.9"/>
<rect x="184.10" y="404.37" width="8.55" height="54.93" fill="#ed7d77" stroke="#222" stroke-width="0.9"/>
<rect x="192.65" y="430.02" width="8.55" height="29.28" fill="#a0ec84" stroke="#222" stroke-width="0.9"/>
<rect x="201.20" y="445.07" width="8.55" height="14.23" fill="#7b7bee" stroke="#222" stroke-width="0.9"/>
<path d="M171.28,385.53V422.47M166.57,385.53H175.98M166.57,422.47H175.98" stroke="#1a1a1a" stroke-width="1.2" fill="none"/>
<path d="M179.83,394.15V407.83M175.12,394.15H184.53M175.12,407.83H184.53" stroke="#1a1a1a" stroke-width="1.2" fill="none"/>
<path d="M188.38,399.59V409.16M183.67,399.59H193.08M183.67,409.16H193.08" stroke="#1a1a1a" stroke-width="1.2" fill="none"/>
<path d="M196.93,426.60V433.44M192.22,426.60H201.63M192.22,433.44H201.63" stroke="#1a1a1a" stroke-width="1.2" fill="none"/>
<path d="M194.62,419.70L199.23,424.30M194.62,424.30L199.23,419.70" stroke="#444" stroke-width="0.85" fill="none"/>
<rect x="195.83" y="420.90" width="2.2" height="2.2" fill="#1a1a1a"/>
<path d="M205.47,440.63V449.52M200.77,440.63H210.18M200.77,449.52H210.18" stroke="#1a1a1a" stroke-width="1.2" fill="none"/>
<path d="M203.17,433.73L207.78,438.33M203.17,438.33L207.78,433.73" stroke="#444" stroke-width="0.85" fill="none"/>
<rect x="204.38" y="434.93" width="2.2" height="2.2" fill="#1a1a1a"/>
<line x1="48.20" y1="425.10" x2="52.70" y2="425.10" stroke="#4a4a4a" stroke-width="1.25" />
<line x1="226.30" y1="425.10" x2="221.80" y2="425.10" stroke="#4a4a4a" stroke-width="1.25" />
<line x1="48.20" y1="390.90" x2="52.70" y2="390.90" stroke="#4a4a4a" stroke-width="1.25" />
<line x1="226.30" y1="390.90" x2="221.80" y2="390.90" stroke="#4a4a4a" stroke-width="1.25" />
<line x1="48.20" y1="356.70" x2="52.70" y2="356.70" stroke="#4a4a4a" stroke-width="1.25" />
<line x1="226.30" y1="356.70" x2="221.80" y2="356.70" stroke="#4a4a4a" stroke-width="1.25" />
<rect x="48.2" y="322.5" width="178.10" height="136.80" fill="none" stroke="#4a4a4a" stroke-width="1.25"/>
<text x="42.80" y="462.40" font-size="10.0" text-anchor="end" font-weight="normal" fill="#1c1c1c" stroke="#1c1c1c" stroke-width="0.28" >0</text>
<text x="42.80" y="428.20" font-size="10.0" text-anchor="end" font-weight="normal" fill="#1c1c1c" stroke="#1c1c1c" stroke-width="0.28" >1000</text>
<text x="42.80" y="394.00" font-size="10.0" text-anchor="end" font-weight="normal" fill="#1c1c1c" stroke="#1c1c1c" stroke-width="0.28" >2000</text>
<text x="42.80" y="359.80" font-size="10.0" text-anchor="end" font-weight="normal" fill="#1c1c1c" stroke="#1c1c1c" stroke-width="0.28" >3000</text>
<text x="42.80" y="325.60" font-size="10.0" text-anchor="end" font-weight="normal" fill="#1c1c1c" stroke="#1c1c1c" stroke-width="0.28" >4000</text>
<text transform="translate(86.20,472.20) scale(1.0,1.15)" font-size="9.8" text-anchor="middle" font-weight="normal" fill="#101010" stroke="#101010" stroke-width="0.15" >Donor 1</text>
<text transform="translate(136.70,472.20) scale(1.0,1.15)" font-size="9.8" text-anchor="middle" font-weight="normal" fill="#101010" stroke="#101010" stroke-width="0.15" >Donor 2</text>
<text transform="translate(188.10,472.20) scale(1.0,1.15)" font-size="9.8" text-anchor="middle" font-weight="normal" fill="#101010" stroke="#101010" stroke-width="0.15" >Donor 3</text>
<text transform="translate(137.30,320.20) scale(1.0,1.05)" font-size="11" text-anchor="middle" font-weight="normal" fill="#101010" stroke="#101010" stroke-width="0.15" >Experiment</text>
<text transform="translate(13.70,387.80) rotate(-90) scale(1,1.05)" font-size="11.6" text-anchor="middle" fill="#1a1a1a" stroke="#1a1a1a" stroke-width="0.15">Fluorescence</text>
<text transform="translate(188.80,335.60) scale(1.0,1.15)" font-size="6.8" text-anchor="end" font-weight="normal" fill="#101010" stroke="#101010" stroke-width="0.08" >Control</text>
<rect x="193.40" y="330.40" width="23.90" height="5.2" fill="#7a7a7a" stroke="#222" stroke-width="0.9"/>
<text transform="translate(188.80,345.70) scale(1.0,1.15)" font-size="6.8" text-anchor="end" font-weight="normal" fill="#101010" stroke="#101010" stroke-width="0.08" >Aspirin</text>
<rect x="193.40" y="340.50" width="23.90" height="5.2" fill="#fadd8c" stroke="#222" stroke-width="0.9"/>
<text transform="translate(188.80,355.60) scale(1.0,1.15)" font-size="6.8" text-anchor="end" font-weight="normal" fill="#101010" stroke="#101010" stroke-width="0.08" >Indomethacin</text>
<rect x="193.40" y="350.40" width="23.90" height="5.2" fill="#ed7d77" stroke="#222" stroke-width="0.9"/>
<text transform="translate(188.80,365.60) scale(1.0,1.15)" font-size="6.8" text-anchor="end" font-weight="normal" fill="#101010" stroke="#101010" stroke-width="0.08" >MRS 2179</text>
<rect x="193.40" y="360.40" width="23.90" height="5.2" fill="#a0ec84" stroke="#222" stroke-width="0.9"/>
<text transform="translate(188.80,375.50) scale(1.0,1.15)" font-size="6.8" text-anchor="end" font-weight="normal" fill="#101010" stroke="#101010" stroke-width="0.08" >Iloprost</text>
<rect x="193.40" y="370.30" width="23.90" height="5.2" fill="#7b7bee" stroke="#222" stroke-width="0.9"/>
<rect x="294.40" y="356.27" width="10.30" height="102.93" fill="#7a7a7a" stroke="#222" stroke-width="0.9"/>
<rect x="304.70" y="374.52" width="10.30" height="84.68" fill="#ed7d77" stroke="#222" stroke-width="0.9"/>
<rect x="315.00" y="423.61" width="10.30" height="35.59" fill="#a0ec84" stroke="#222" stroke-width="0.9"/>
<rect x="325.30" y="445.33" width="10.30" height="13.87" fill="#7b7bee" stroke="#222" stroke-width="0.9"/>
<path d="M299.55,343.86V368.68M293.88,343.86H305.21M293.88,368.68H305.21" stroke="#1a1a1a" stroke-width="1.2" fill="none"/>
<path d="M309.85,361.38V387.66M304.18,361.38H315.51M304.18,387.66H315.51" stroke="#1a1a1a" stroke-width="1.2" fill="none"/>
<path d="M307.55,354.48L312.15,359.08M307.55,359.08L312.15,354.48" stroke="#444" stroke-width="0.85" fill="none"/>
<rect x="308.75" y="355.68" width="2.2" height="2.2" fill="#1a1a1a"/>
<path d="M320.15,419.41V427.81M314.48,419.41H325.81M314.48,427.81H325.81" stroke="#1a1a1a" stroke-width="1.2" fill="none"/>
<path d="M317.85,412.51L322.45,417.11M317.85,417.11L322.45,412.51" stroke="#444" stroke-width="0.85" fill="none"/>
<rect x="319.05" y="413.71" width="2.2" height="2.2" fill="#1a1a1a"/>
<path d="M330.45,442.99V447.67M324.78,442.99H336.11M324.78,447.67H336.11" stroke="#1a1a1a" stroke-width="1.2" fill="none"/>
<path d="M328.15,436.09L332.75,440.69M328.15,440.69L332.75,436.09" stroke="#444" stroke-width="0.85" fill="none"/>
<rect x="329.35" y="437.29" width="2.2" height="2.2" fill="#1a1a1a"/>
<rect x="345.20" y="411.38" width="10.30" height="47.81" fill="#7a7a7a" stroke="#222" stroke-width="0.9"/>
<rect x="355.50" y="430.73" width="10.30" height="28.47" fill="#ed7d77" stroke="#222" stroke-width="0.9"/>
<rect x="365.80" y="434.75" width="10.30" height="24.45" fill="#a0ec84" stroke="#222" stroke-width="0.9"/>
<rect x="376.10" y="443.50" width="10.30" height="15.69" fill="#7b7bee" stroke="#222" stroke-width="0.9"/>
<path d="M350.35,396.78V425.99M344.68,396.78H356.01M344.68,425.99H356.01" stroke="#1a1a1a" stroke-width="1.2" fill="none"/>
<path d="M360.65,427.08V434.38M354.98,427.08H366.31M354.98,434.38H366.31" stroke="#1a1a1a" stroke-width="1.2" fill="none"/>
<path d="M358.35,420.18L362.95,424.78M358.35,424.78L362.95,420.18" stroke="#444" stroke-width="0.85" fill="none"/>
<rect x="359.55" y="421.38" width="2.2" height="2.2" fill="#1a1a1a"/>
<path d="M370.95,431.09V438.39M365.28,431.09H376.62M365.28,438.39H376.62" stroke="#1a1a1a" stroke-width="1.2" fill="none"/>
<path d="M368.65,424.19L373.25,428.79M368.65,428.79L373.25,424.19" stroke="#444" stroke-width="0.85" fill="none"/>
<rect x="369.85" y="425.39" width="2.2" height="2.2" fill="#1a1a1a"/>
<path d="M381.25,440.58V446.43M375.58,440.58H386.91M375.58,446.43H386.91" stroke="#1a1a1a" stroke-width="1.2" fill="none"/>
<path d="M378.95,433.68L383.55,438.28M378.95,438.28L383.55,433.68" stroke="#444" stroke-width="0.85" fill="none"/>
<rect x="380.15" y="434.88" width="2.2" height="2.2" fill="#1a1a1a"/>
<rect x="396.40" y="427.08" width="10.30" height="32.12" fill="#7a7a7a" stroke="#222" stroke-width="0.9"/>
<rect x="406.70" y="431.46" width="10.30" height="27.74" fill="#ed7d77" stroke="#222" stroke-width="0.9"/>
<rect x="417.00" y="435.47" width="10.30" height="23.73" fill="#a0ec84" stroke="#222" stroke-width="0.9"/>
<rect x="427.30" y="444.05" width="10.30" height="15.15" fill="#7b7bee" stroke="#222" stroke-width="0.9"/>
<path d="M401.55,421.79V432.37M395.88,421.79H407.21M395.88,432.37H407.21" stroke="#1a1a1a" stroke-width="1.2" fill="none"/>
<path d="M411.85,427.30V435.62M406.18,427.30H417.51M406.18,435.62H417.51" stroke="#1a1a1a" stroke-width="1.2" fill="none"/>
<path d="M422.15,432.99V437.96M416.48,432.99H427.81M416.48,437.96H427.81" stroke="#1a1a1a" stroke-width="1.2" fill="none"/>
<path d="M419.85,426.09L424.45,430.69M419.85,430.69L424.45,426.09" stroke="#444" stroke-width="0.85" fill="none"/>
<rect x="421.05" y="427.29" width="2.2" height="2.2" fill="#1a1a1a"/>
<path d="M432.45,441.50V446.61M426.78,441.50H438.11M426.78,446.61H438.11" stroke="#1a1a1a" stroke-width="1.2" fill="none"/>
<path d="M430.15,434.60L434.75,439.20M430.15,439.20L434.75,434.60" stroke="#444" stroke-width="0.85" fill="none"/>
<rect x="431.35" y="435.80" width="2.2" height="2.2" fill="#1a1a1a"/>
<line x1="276.80" y1="422.70" x2="281.30" y2="422.70" stroke="#4a4a4a" stroke-width="1.25" />
<line x1="455.50" y1="422.70" x2="451.00" y2="422.70" stroke="#4a4a4a" stroke-width="1.25" />
<line x1="276.80" y1="386.20" x2="281.30" y2="386.20" stroke="#4a4a4a" stroke-width="1.25" />
<line x1="455.50" y1="386.20" x2="451.00" y2="386.20" stroke="#4a4a4a" stroke-width="1.25" />
<line x1="276.80" y1="349.70" x2="281.30" y2="349.70" stroke="#4a4a4a" stroke-width="1.25" />
<line x1="455.50" y1="349.70" x2="451.00" y2="349.70" stroke="#4a4a4a" stroke-width="1.25" />
<rect x="276.8" y="322.7" width="178.70" height="136.50" fill="none" stroke="#4a4a4a" stroke-width="1.25"/>
<text x="272.20" y="462.30" font-size="10.0" text-anchor="end" font-weight="normal" fill="#1c1c1c" stroke="#1c1c1c" stroke-width="0.28" >0</text>
<text x="272.20" y="425.80" font-size="10.0" text-anchor="end" font-weight="normal" fill="#1c1c1c" stroke="#1c1c1c" stroke-width="0.28" >100</text>
<text x="272.20" y="389.30" font-size="10.0" text-anchor="end" font-weight="normal" fill="#1c1c1c" stroke="#1c1c1c" stroke-width="0.28" >200</text>
<text x="272.20" y="352.80" font-size="10.0" text-anchor="end" font-weight="normal" fill="#1c1c1c" stroke="#1c1c1c" stroke-width="0.28" >300</text>
<text transform="translate(315.10,472.20) scale(1.0,1.15)" font-size="9.8" text-anchor="middle" font-weight="normal" fill="#101010" stroke="#101010" stroke-width="0.15" >Donor 1</text>
<text transform="translate(365.90,472.20) scale(1.0,1.15)" font-size="9.8" text-anchor="middle" font-weight="normal" fill="#101010" stroke="#101010" stroke-width="0.15" >Donor 2</text>
<text transform="translate(417.20,472.20) scale(1.0,1.15)" font-size="9.8" text-anchor="middle" font-weight="normal" fill="#101010" stroke="#101010" stroke-width="0.15" >Donor 3</text>
<text transform="translate(365.90,320.20) scale(1.0,1.05)" font-size="11" text-anchor="middle" font-weight="normal" fill="#101010" stroke="#101010" stroke-width="0.15" >Simulation</text>
<text transform="translate(246.50,390.40) rotate(-90) scale(1,1.05)" font-size="11.2" text-anchor="middle" fill="#1a1a1a" stroke="#1a1a1a" stroke-width="0.15">Platelets</text>
<text transform="translate(417.40,335.30) scale(1.0,1.15)" font-size="6.8" text-anchor="end" font-weight="normal" fill="#101010" stroke="#101010" stroke-width="0.08" >Control</text>
<rect x="421.80" y="330.10" width="24.40" height="5.2" fill="#7a7a7a" stroke="#222" stroke-width="0.9"/>
<text transform="translate(417.40,345.60) scale(1.0,1.15)" font-size="6.8" text-anchor="end" font-weight="normal" fill="#101010" stroke="#101010" stroke-width="0.08" >No TXA</text>
<rect x="421.80" y="340.40" width="24.40" height="5.2" fill="#ed7d77" stroke="#222" stroke-width="0.9"/>
<text transform="translate(417.40,355.40) scale(1.0,1.15)" font-size="6.8" text-anchor="end" font-weight="normal" fill="#101010" stroke="#101010" stroke-width="0.08" >No ADP</text>
<rect x="421.80" y="350.20" width="24.40" height="5.2" fill="#a0ec84" stroke="#222" stroke-width="0.9"/>
<text transform="translate(417.40,365.60) scale(1.0,1.15)" font-size="6.8" text-anchor="end" font-weight="normal" fill="#101010" stroke="#101010" stroke-width="0.08" >Iloprost</text>
<rect x="421.80" y="360.40" width="24.40" height="5.2" fill="#7b7bee" stroke="#222" stroke-width="0.9"/>
</g></svg>
</body></html>
